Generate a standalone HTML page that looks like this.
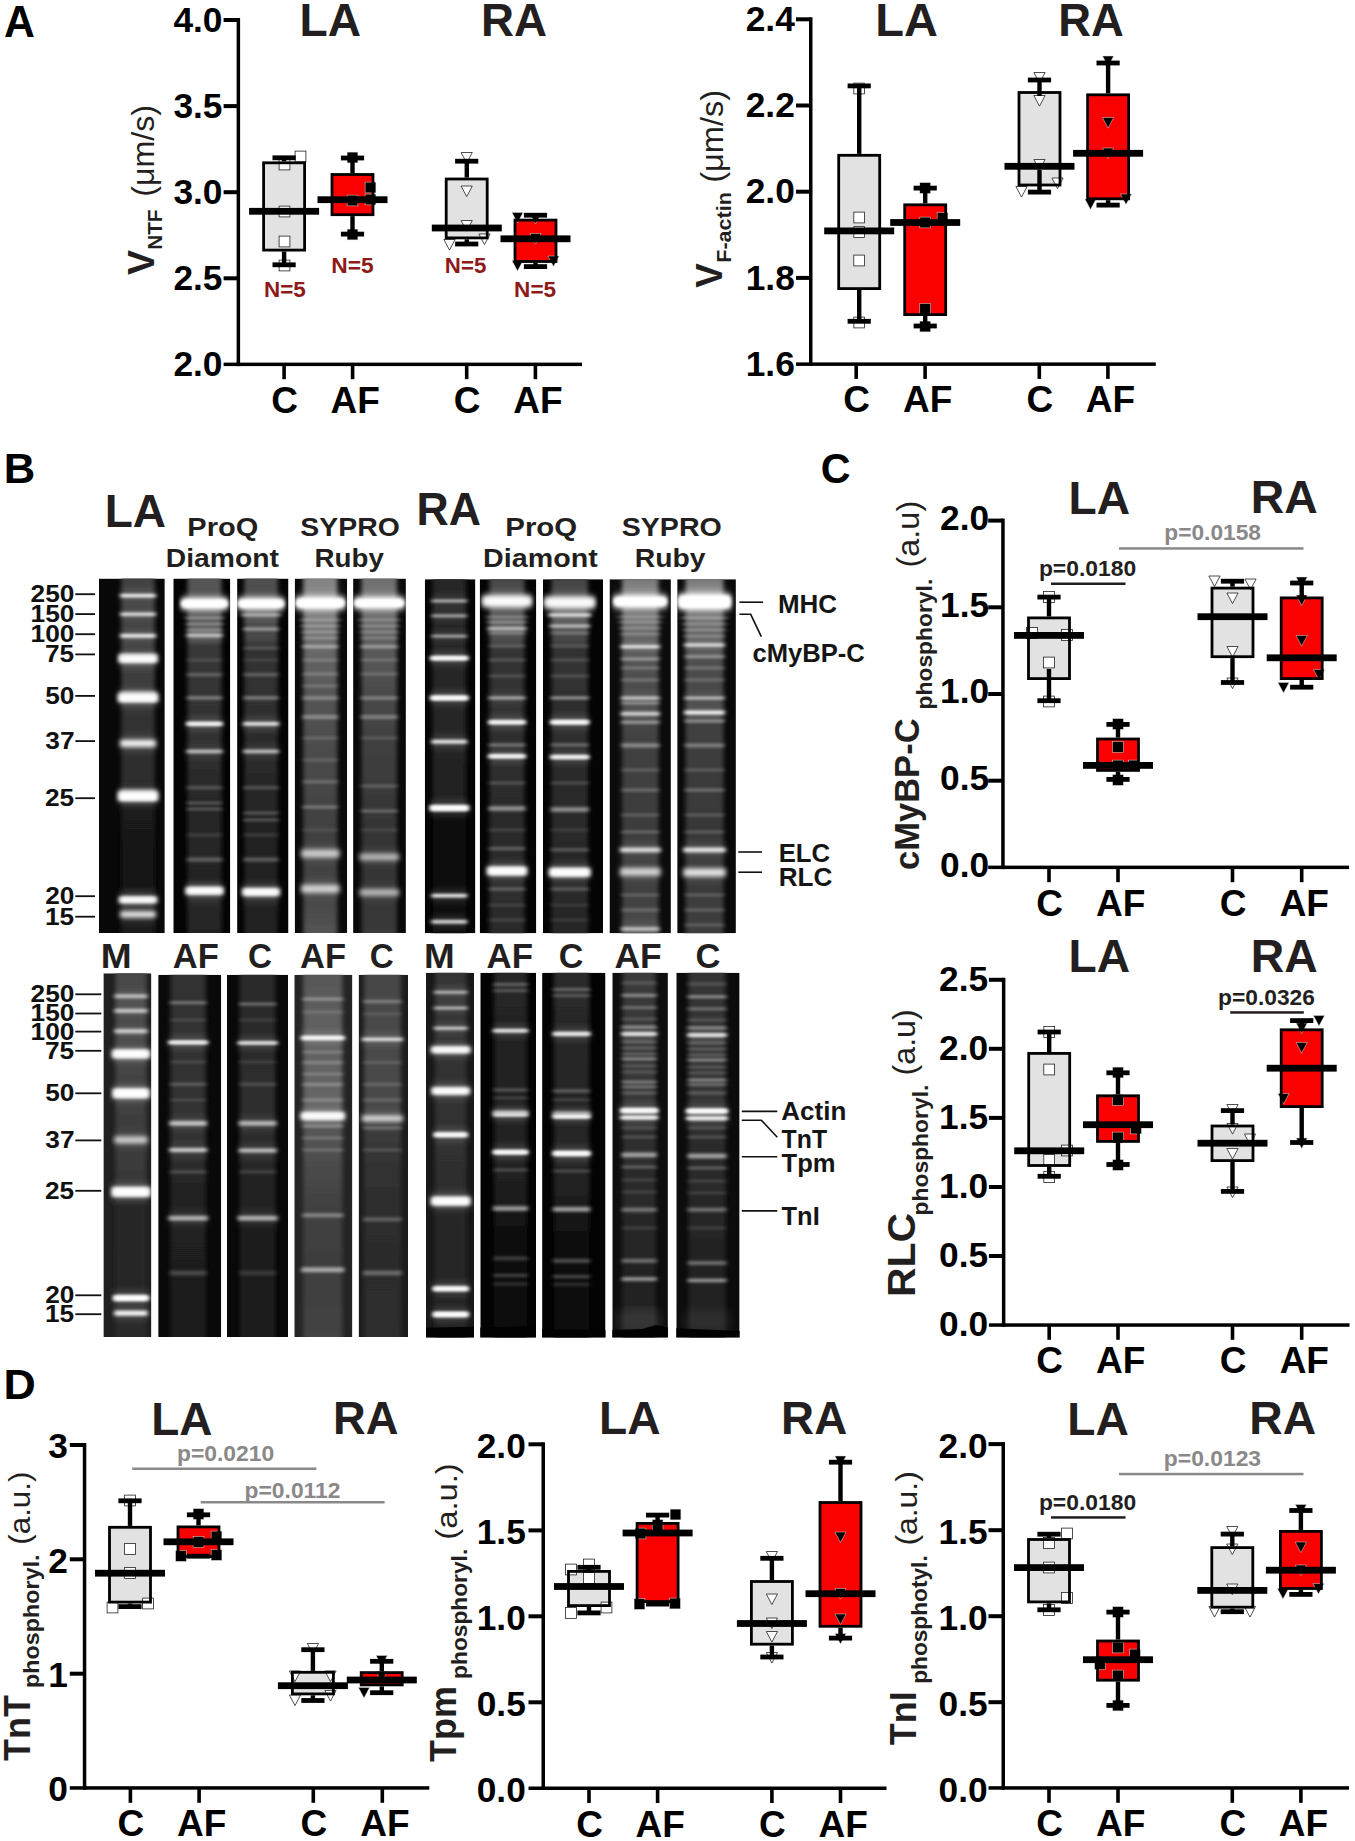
<!DOCTYPE html>
<html lang="en"><head><meta charset="utf-8"><title>Figure</title>
<style>
html,body{margin:0;padding:0;background:#fff}
body{width:1355px;height:1841px;overflow:hidden}
svg{display:block;font-family:'Liberation Sans', Arial, Helvetica, sans-serif;font-weight:bold}
</style></head><body>
<svg width="1355" height="1841" viewBox="0 0 1355 1841">
<defs>
<filter id="b1" x="-10%" y="-200%" width="120%" height="500%"><feGaussianBlur stdDeviation="2.0 1.35"/></filter>
<filter id="b2" x="-10%" y="-200%" width="120%" height="500%"><feGaussianBlur stdDeviation="2.6 2.3"/></filter>
<filter id="b3" x="-20%" y="-50%" width="140%" height="200%"><feGaussianBlur stdDeviation="3 4"/></filter>
<filter id="bl" x="-20%" y="-5%" width="140%" height="110%"><feGaussianBlur stdDeviation="2.1 0.6"/></filter>
</defs>
<rect width="1355" height="1841" fill="#fff"/>
<text x="4.1" y="37.1" font-size="43.5" textLength="30.9" lengthAdjust="spacingAndGlyphs">A</text>
<text x="3.7" y="483.2" font-size="42" textLength="31.5" lengthAdjust="spacingAndGlyphs">B</text>
<text x="820.8" y="483.0" font-size="42" textLength="29.8" lengthAdjust="spacingAndGlyphs">C</text>
<text x="3.6" y="1399.3" font-size="42" textLength="32.3" lengthAdjust="spacingAndGlyphs">D</text>
<rect x="236.6" y="18.0" width="3.5" height="348.1" fill="#000"/>
<rect x="223.6" y="362.6" width="358.4" height="3.5" fill="#000"/>
<rect x="223.6" y="18.0" width="14.8" height="4.0" fill="#000"/>
<rect x="223.6" y="104.1" width="14.8" height="4.0" fill="#000"/>
<rect x="223.6" y="190.2" width="14.8" height="4.0" fill="#000"/>
<rect x="223.6" y="276.3" width="14.8" height="4.0" fill="#000"/>
<text x="222.5" y="31.7" font-size="35.3" text-anchor="end">4.0</text>
<text x="222.5" y="117.8" font-size="35.3" text-anchor="end">3.5</text>
<text x="222.5" y="203.9" font-size="35.3" text-anchor="end">3.0</text>
<text x="222.5" y="290.0" font-size="35.3" text-anchor="end">2.5</text>
<text x="222.5" y="376.1" font-size="35.3" text-anchor="end">2.0</text>
<rect x="282.3" y="364.4" width="3.6" height="14.8" fill="#000"/>
<text x="284.6" y="412.7" font-size="37" text-anchor="middle">C</text>
<rect x="350.8" y="364.4" width="3.6" height="14.8" fill="#000"/>
<text x="355.2" y="412.7" font-size="37" text-anchor="middle">AF</text>
<rect x="464.9" y="364.4" width="3.6" height="14.8" fill="#000"/>
<text x="467.2" y="412.7" font-size="37" text-anchor="middle">C</text>
<rect x="533.6" y="364.4" width="3.6" height="14.8" fill="#000"/>
<text x="538.0" y="412.7" font-size="37" text-anchor="middle">AF</text>
<text x="299.5" y="36.3" font-size="46.8" fill="#231f20" textLength="61.5" lengthAdjust="spacingAndGlyphs">LA</text>
<text x="481.1" y="36.3" font-size="46.8" fill="#231f20" textLength="66.0" lengthAdjust="spacingAndGlyphs">RA</text>
<rect x="263.6" y="162.8" width="41.0" height="87.3" fill="#e2e2e2"/>
<rect x="279.1" y="159.1" width="10.8" height="10.8" fill="#fff" stroke="#222" stroke-width="0.8"/>
<rect x="295.1" y="151.1" width="10.8" height="10.8" fill="#fff" stroke="#222" stroke-width="0.8"/>
<rect x="279.1" y="206.1" width="10.8" height="10.8" fill="#fff" stroke="#222" stroke-width="0.8"/>
<rect x="279.1" y="236.1" width="10.8" height="10.8" fill="#fff" stroke="#222" stroke-width="0.8"/>
<rect x="279.1" y="260.1" width="10.8" height="10.8" fill="#fff" stroke="#222" stroke-width="0.8"/>
<rect x="263.6" y="162.8" width="41.0" height="87.3" fill="none" stroke="#000" stroke-width="2.8"/>
<rect x="281.9" y="157.8" width="4.4" height="3.6" fill="#000"/>
<rect x="281.9" y="251.5" width="4.4" height="13.3" fill="#000"/>
<rect x="272.5" y="155.4" width="23.2" height="4.8" fill="#000"/>
<rect x="272.5" y="262.4" width="23.2" height="4.8" fill="#000"/>
<rect x="249.1" y="207.9" width="70.0" height="6.8" fill="#000"/>
<rect x="332.0" y="174.5" width="41.0" height="40.2" fill="#fb0000"/>
<rect x="347.1" y="152.1" width="10.8" height="10.8" fill="#000" stroke="#ddd" stroke-width="0.5"/>
<rect x="365.1" y="182.1" width="10.8" height="10.8" fill="#000" stroke="#ddd" stroke-width="0.5"/>
<rect x="347.1" y="195.1" width="10.8" height="10.8" fill="#000" stroke="#ddd" stroke-width="0.5"/>
<rect x="365.1" y="194.1" width="10.8" height="10.8" fill="#000" stroke="#ddd" stroke-width="0.5"/>
<rect x="347.1" y="229.1" width="10.8" height="10.8" fill="#000" stroke="#ddd" stroke-width="0.5"/>
<rect x="332.0" y="174.5" width="41.0" height="40.2" fill="none" stroke="#000" stroke-width="2.8"/>
<rect x="350.3" y="158.0" width="4.4" height="15.1" fill="#000"/>
<rect x="350.3" y="216.1" width="4.4" height="18.0" fill="#000"/>
<rect x="340.9" y="155.6" width="23.2" height="4.8" fill="#000"/>
<rect x="340.9" y="231.7" width="23.2" height="4.8" fill="#000"/>
<rect x="317.5" y="196.3" width="70.0" height="6.8" fill="#000"/>
<rect x="446.2" y="179.0" width="41.0" height="58.9" fill="#e2e2e2"/>
<path d="M461.1 152.5h11.2l-5.6 10.6z" fill="#fff" stroke="#222" stroke-width="0.8"/>
<path d="M461.1 186.0h11.2l-5.6 10.6z" fill="#fff" stroke="#222" stroke-width="0.8"/>
<path d="M461.1 220.5h11.2l-5.6 10.6z" fill="#fff" stroke="#222" stroke-width="0.8"/>
<path d="M443.9 239.5h11.2l-5.6 10.6z" fill="#fff" stroke="#222" stroke-width="0.8"/>
<path d="M478.9 234.0h11.2l-5.6 10.6z" fill="#fff" stroke="#222" stroke-width="0.8"/>
<rect x="446.2" y="179.0" width="41.0" height="58.9" fill="none" stroke="#000" stroke-width="2.8"/>
<rect x="464.6" y="161.2" width="4.4" height="16.4" fill="#000"/>
<rect x="464.6" y="239.3" width="4.4" height="4.7" fill="#000"/>
<rect x="455.1" y="158.8" width="23.2" height="4.8" fill="#000"/>
<rect x="455.1" y="241.6" width="23.2" height="4.8" fill="#000"/>
<rect x="431.8" y="224.6" width="70.0" height="6.8" fill="#000"/>
<rect x="515.0" y="220.1" width="41.0" height="41.4" fill="#fb0000"/>
<path d="M511.9 212.5h11.2l-5.6 10.6z" fill="#000" stroke="#ddd" stroke-width="0.5"/>
<path d="M529.9 233.5h11.2l-5.6 10.6z" fill="#000" stroke="#ddd" stroke-width="0.5"/>
<path d="M547.9 256.0h11.2l-5.6 10.6z" fill="#000" stroke="#ddd" stroke-width="0.5"/>
<path d="M511.9 260.5h11.2l-5.6 10.6z" fill="#000" stroke="#ddd" stroke-width="0.5"/>
<path d="M529.9 213.5h11.2l-5.6 10.6z" fill="#000" stroke="#ddd" stroke-width="0.5"/>
<rect x="515.0" y="220.1" width="41.0" height="41.4" fill="none" stroke="#000" stroke-width="2.8"/>
<rect x="533.3" y="215.2" width="4.4" height="3.5" fill="#000"/>
<rect x="533.3" y="262.9" width="4.4" height="3.7" fill="#000"/>
<rect x="523.9" y="212.8" width="23.2" height="4.8" fill="#000"/>
<rect x="523.9" y="264.2" width="23.2" height="4.8" fill="#000"/>
<rect x="500.5" y="235.4" width="70.0" height="6.8" fill="#000"/>
<text x="264.0" y="297.3" font-size="21.5" fill="#8e1a1a" textLength="41.8" lengthAdjust="spacingAndGlyphs">N=5</text>
<text x="331.3" y="273.4" font-size="21.5" fill="#8e1a1a" textLength="42.4" lengthAdjust="spacingAndGlyphs">N=5</text>
<text x="444.8" y="273.4" font-size="21.5" fill="#8e1a1a" textLength="41.5" lengthAdjust="spacingAndGlyphs">N=5</text>
<text x="514.1" y="297.3" font-size="21.5" fill="#8e1a1a" textLength="42.0" lengthAdjust="spacingAndGlyphs">N=5</text>
<text x="153.8" y="275.0" font-size="36.7" fill="#231f20" textLength="25.0" lengthAdjust="spacingAndGlyphs" transform="rotate(-90 153.8 275.0)">V</text>
<text x="162.1" y="249.8" font-size="19.5" fill="#231f20" textLength="40.3" lengthAdjust="spacingAndGlyphs" transform="rotate(-90 162.1 249.8)">NTF</text>
<text x="154.4" y="196.7" font-size="30.8" font-weight="normal" fill="#231f20" textLength="91.8" lengthAdjust="spacingAndGlyphs" transform="rotate(-90 154.4 196.7)">(μm/s)</text>
<rect x="809.0" y="17.3" width="3.5" height="348.6" fill="#000"/>
<rect x="796.0" y="362.4" width="359.8" height="3.5" fill="#000"/>
<rect x="796.0" y="17.3" width="14.8" height="4.0" fill="#000"/>
<rect x="796.0" y="103.5" width="14.8" height="4.0" fill="#000"/>
<rect x="796.0" y="189.7" width="14.8" height="4.0" fill="#000"/>
<rect x="796.0" y="275.9" width="14.8" height="4.0" fill="#000"/>
<text x="794.8" y="31.0" font-size="35.3" text-anchor="end">2.4</text>
<text x="794.8" y="117.2" font-size="35.3" text-anchor="end">2.2</text>
<text x="794.8" y="203.4" font-size="35.3" text-anchor="end">2.0</text>
<text x="794.8" y="289.6" font-size="35.3" text-anchor="end">1.8</text>
<text x="794.8" y="375.8" font-size="35.3" text-anchor="end">1.6</text>
<rect x="854.4" y="364.1" width="3.6" height="14.8" fill="#000"/>
<text x="856.7" y="412.4" font-size="37" text-anchor="middle">C</text>
<rect x="923.3" y="364.1" width="3.6" height="14.8" fill="#000"/>
<text x="927.7" y="412.4" font-size="37" text-anchor="middle">AF</text>
<rect x="1037.5" y="364.1" width="3.6" height="14.8" fill="#000"/>
<text x="1039.8" y="412.4" font-size="37" text-anchor="middle">C</text>
<rect x="1106.1" y="364.1" width="3.6" height="14.8" fill="#000"/>
<text x="1110.5" y="412.4" font-size="37" text-anchor="middle">AF</text>
<text x="875.2" y="36.0" font-size="46.8" fill="#231f20" textLength="62.7" lengthAdjust="spacingAndGlyphs">LA</text>
<text x="1058.2" y="36.0" font-size="46.8" fill="#231f20" textLength="65.6" lengthAdjust="spacingAndGlyphs">RA</text>
<rect x="838.7" y="155.3" width="41.0" height="133.3" fill="#e2e2e2"/>
<rect x="853.8" y="83.1" width="10.8" height="10.8" fill="#fff" stroke="#222" stroke-width="0.8"/>
<rect x="853.8" y="212.1" width="10.8" height="10.8" fill="#fff" stroke="#222" stroke-width="0.8"/>
<rect x="853.8" y="226.6" width="10.8" height="10.8" fill="#fff" stroke="#222" stroke-width="0.8"/>
<rect x="853.8" y="255.1" width="10.8" height="10.8" fill="#fff" stroke="#222" stroke-width="0.8"/>
<rect x="853.8" y="317.1" width="10.8" height="10.8" fill="#fff" stroke="#222" stroke-width="0.8"/>
<rect x="838.7" y="155.3" width="41.0" height="133.3" fill="none" stroke="#000" stroke-width="2.8"/>
<rect x="857.0" y="85.9" width="4.4" height="68.0" fill="#000"/>
<rect x="857.0" y="290.0" width="4.4" height="31.3" fill="#000"/>
<rect x="847.6" y="83.5" width="23.2" height="4.8" fill="#000"/>
<rect x="847.6" y="318.9" width="23.2" height="4.8" fill="#000"/>
<rect x="824.2" y="227.5" width="70.0" height="6.8" fill="#000"/>
<rect x="904.7" y="204.8" width="41.0" height="109.8" fill="#fb0000"/>
<rect x="919.8" y="182.6" width="10.8" height="10.8" fill="#000" stroke="#ddd" stroke-width="0.5"/>
<rect x="937.1" y="212.6" width="10.8" height="10.8" fill="#000" stroke="#ddd" stroke-width="0.5"/>
<rect x="919.8" y="217.1" width="10.8" height="10.8" fill="#000" stroke="#ddd" stroke-width="0.5"/>
<rect x="919.8" y="303.6" width="10.8" height="10.8" fill="#000" stroke="#ddd" stroke-width="0.5"/>
<rect x="919.8" y="321.1" width="10.8" height="10.8" fill="#000" stroke="#ddd" stroke-width="0.5"/>
<rect x="904.7" y="204.8" width="41.0" height="109.8" fill="none" stroke="#000" stroke-width="2.8"/>
<rect x="923.0" y="188.1" width="4.4" height="15.3" fill="#000"/>
<rect x="923.0" y="316.0" width="4.4" height="10.0" fill="#000"/>
<rect x="913.6" y="185.7" width="23.2" height="4.8" fill="#000"/>
<rect x="913.6" y="323.6" width="23.2" height="4.8" fill="#000"/>
<rect x="890.2" y="219.1" width="70.0" height="6.8" fill="#000"/>
<rect x="1019.0" y="92.5" width="41.0" height="92.5" fill="#e2e2e2"/>
<path d="M1033.9 72.5h11.2l-5.6 10.6z" fill="#fff" stroke="#222" stroke-width="0.8"/>
<path d="M1033.9 95.5h11.2l-5.6 10.6z" fill="#fff" stroke="#222" stroke-width="0.8"/>
<path d="M1033.9 159.5h11.2l-5.6 10.6z" fill="#fff" stroke="#222" stroke-width="0.8"/>
<path d="M1015.9 186.5h11.2l-5.6 10.6z" fill="#fff" stroke="#222" stroke-width="0.8"/>
<path d="M1051.9 178.0h11.2l-5.6 10.6z" fill="#fff" stroke="#222" stroke-width="0.8"/>
<rect x="1019.0" y="92.5" width="41.0" height="92.5" fill="none" stroke="#000" stroke-width="2.8"/>
<rect x="1037.3" y="80.0" width="4.4" height="16.0" fill="#000"/>
<rect x="1037.3" y="170.0" width="4.4" height="22.1" fill="#000"/>
<rect x="1027.9" y="77.6" width="23.2" height="4.8" fill="#000"/>
<rect x="1027.9" y="189.7" width="23.2" height="4.8" fill="#000"/>
<rect x="1004.5" y="162.9" width="70.0" height="6.8" fill="#000"/>
<rect x="1087.6" y="94.8" width="41.0" height="104.0" fill="#fb0000"/>
<path d="M1102.5 56.0h11.2l-5.6 10.6z" fill="#000" stroke="#ddd" stroke-width="0.5"/>
<path d="M1102.5 117.5h11.2l-5.6 10.6z" fill="#000" stroke="#ddd" stroke-width="0.5"/>
<path d="M1102.5 148.0h11.2l-5.6 10.6z" fill="#000" stroke="#ddd" stroke-width="0.5"/>
<path d="M1120.4 194.0h11.2l-5.6 10.6z" fill="#000" stroke="#ddd" stroke-width="0.5"/>
<path d="M1084.9 199.0h11.2l-5.6 10.6z" fill="#000" stroke="#ddd" stroke-width="0.5"/>
<rect x="1087.6" y="94.8" width="41.0" height="104.0" fill="none" stroke="#000" stroke-width="2.8"/>
<rect x="1105.9" y="63.0" width="4.4" height="30.4" fill="#000"/>
<rect x="1105.9" y="200.2" width="4.4" height="4.9" fill="#000"/>
<rect x="1096.5" y="60.6" width="23.2" height="4.8" fill="#000"/>
<rect x="1096.5" y="202.7" width="23.2" height="4.8" fill="#000"/>
<rect x="1073.1" y="149.9" width="70.0" height="6.8" fill="#000"/>
<text x="722.4" y="287.7" font-size="36.7" fill="#231f20" textLength="24.5" lengthAdjust="spacingAndGlyphs" transform="rotate(-90 722.4 287.7)">V</text>
<text x="731.3" y="262.7" font-size="20" fill="#231f20" textLength="70.6" lengthAdjust="spacingAndGlyphs" transform="rotate(-90 731.3 262.7)">F-actin</text>
<text x="722.6" y="182.8" font-size="31" font-weight="normal" fill="#231f20" textLength="93.0" lengthAdjust="spacingAndGlyphs" transform="rotate(-90 722.6 182.8)">(μm/s)</text>
<rect x="1001.2" y="518.6" width="3.5" height="350.5" fill="#000"/>
<rect x="988.2" y="865.6" width="360.8" height="3.5" fill="#000"/>
<rect x="988.2" y="518.6" width="14.8" height="4.0" fill="#000"/>
<rect x="988.2" y="605.3" width="14.8" height="4.0" fill="#000"/>
<rect x="988.2" y="692.0" width="14.8" height="4.0" fill="#000"/>
<rect x="988.2" y="778.7" width="14.8" height="4.0" fill="#000"/>
<text x="989.1" y="529.9" font-size="35.3" text-anchor="end">2.0</text>
<text x="989.1" y="616.6" font-size="35.3" text-anchor="end">1.5</text>
<text x="989.1" y="703.3" font-size="35.3" text-anchor="end">1.0</text>
<text x="989.1" y="790.0" font-size="35.3" text-anchor="end">0.5</text>
<text x="989.1" y="876.7" font-size="35.3" text-anchor="end">0.0</text>
<rect x="1047.2" y="867.4" width="3.6" height="14.8" fill="#000"/>
<text x="1049.5" y="915.7" font-size="37" text-anchor="middle">C</text>
<rect x="1116.2" y="867.4" width="3.6" height="14.8" fill="#000"/>
<text x="1120.6" y="915.7" font-size="37" text-anchor="middle">AF</text>
<rect x="1230.7" y="867.4" width="3.6" height="14.8" fill="#000"/>
<text x="1233.0" y="915.7" font-size="37" text-anchor="middle">C</text>
<rect x="1299.9" y="867.4" width="3.6" height="14.8" fill="#000"/>
<text x="1304.3" y="915.7" font-size="37" text-anchor="middle">AF</text>
<text x="1068.5" y="513.5" font-size="46.8" fill="#231f20" textLength="61.6" lengthAdjust="spacingAndGlyphs">LA</text>
<text x="1250.7" y="513.0" font-size="46.8" fill="#231f20" textLength="67.0" lengthAdjust="spacingAndGlyphs">RA</text>
<rect x="1028.5" y="617.9" width="41.0" height="60.7" fill="#e2e2e2"/>
<rect x="1043.6" y="591.6" width="10.8" height="10.8" fill="#fff" stroke="#222" stroke-width="0.8"/>
<rect x="1026.6" y="627.6" width="10.8" height="10.8" fill="#fff" stroke="#222" stroke-width="0.8"/>
<rect x="1061.6" y="629.6" width="10.8" height="10.8" fill="#fff" stroke="#222" stroke-width="0.8"/>
<rect x="1043.6" y="657.1" width="10.8" height="10.8" fill="#fff" stroke="#222" stroke-width="0.8"/>
<rect x="1043.6" y="696.1" width="10.8" height="10.8" fill="#fff" stroke="#222" stroke-width="0.8"/>
<rect x="1028.5" y="617.9" width="41.0" height="60.7" fill="none" stroke="#000" stroke-width="2.8"/>
<rect x="1046.8" y="597.1" width="4.4" height="19.4" fill="#000"/>
<rect x="1046.8" y="669.0" width="4.4" height="31.7" fill="#000"/>
<rect x="1037.4" y="594.7" width="23.2" height="4.8" fill="#000"/>
<rect x="1037.4" y="698.3" width="23.2" height="4.8" fill="#000"/>
<rect x="1014.0" y="632.0" width="70.0" height="6.8" fill="#000"/>
<rect x="1097.5" y="739.0" width="41.0" height="31.4" fill="#fb0000"/>
<rect x="1112.6" y="718.6" width="10.8" height="10.8" fill="#000" stroke="#ddd" stroke-width="0.5"/>
<rect x="1112.6" y="741.6" width="10.8" height="10.8" fill="#000" stroke="#ddd" stroke-width="0.5"/>
<rect x="1112.6" y="760.1" width="10.8" height="10.8" fill="#000" stroke="#ddd" stroke-width="0.5"/>
<rect x="1128.6" y="760.1" width="10.8" height="10.8" fill="#000" stroke="#ddd" stroke-width="0.5"/>
<rect x="1112.6" y="774.6" width="10.8" height="10.8" fill="#000" stroke="#ddd" stroke-width="0.5"/>
<rect x="1097.5" y="739.0" width="41.0" height="31.4" fill="none" stroke="#000" stroke-width="2.8"/>
<rect x="1115.8" y="724.4" width="4.4" height="13.2" fill="#000"/>
<rect x="1115.8" y="771.8" width="4.4" height="7.6" fill="#000"/>
<rect x="1106.4" y="722.0" width="23.2" height="4.8" fill="#000"/>
<rect x="1106.4" y="777.0" width="23.2" height="4.8" fill="#000"/>
<rect x="1083.0" y="762.0" width="70.0" height="6.8" fill="#000"/>
<rect x="1212.0" y="588.1" width="41.0" height="68.6" fill="#e2e2e2"/>
<path d="M1208.9 576.0h11.2l-5.6 10.6z" fill="#fff" stroke="#222" stroke-width="0.8"/>
<path d="M1244.9 579.0h11.2l-5.6 10.6z" fill="#fff" stroke="#222" stroke-width="0.8"/>
<path d="M1226.9 593.0h11.2l-5.6 10.6z" fill="#fff" stroke="#222" stroke-width="0.8"/>
<path d="M1226.9 646.5h11.2l-5.6 10.6z" fill="#fff" stroke="#222" stroke-width="0.8"/>
<path d="M1226.9 678.0h11.2l-5.6 10.6z" fill="#fff" stroke="#222" stroke-width="0.8"/>
<rect x="1212.0" y="588.1" width="41.0" height="68.6" fill="none" stroke="#000" stroke-width="2.8"/>
<rect x="1230.3" y="581.2" width="4.4" height="5.5" fill="#000"/>
<rect x="1230.3" y="658.1" width="4.4" height="24.4" fill="#000"/>
<rect x="1220.9" y="578.8" width="23.2" height="4.8" fill="#000"/>
<rect x="1220.9" y="680.1" width="23.2" height="4.8" fill="#000"/>
<rect x="1197.5" y="613.3" width="70.0" height="6.8" fill="#000"/>
<rect x="1281.2" y="597.9" width="41.0" height="80.7" fill="#fb0000"/>
<path d="M1296.1 577.0h11.2l-5.6 10.6z" fill="#000" stroke="#ddd" stroke-width="0.5"/>
<path d="M1296.1 595.0h11.2l-5.6 10.6z" fill="#000" stroke="#ddd" stroke-width="0.5"/>
<path d="M1296.1 635.5h11.2l-5.6 10.6z" fill="#000" stroke="#ddd" stroke-width="0.5"/>
<path d="M1313.4 669.5h11.2l-5.6 10.6z" fill="#000" stroke="#ddd" stroke-width="0.5"/>
<path d="M1277.9 682.5h11.2l-5.6 10.6z" fill="#000" stroke="#ddd" stroke-width="0.5"/>
<rect x="1281.2" y="597.9" width="41.0" height="80.7" fill="none" stroke="#000" stroke-width="2.8"/>
<rect x="1299.5" y="583.0" width="4.4" height="13.5" fill="#000"/>
<rect x="1299.5" y="680.0" width="4.4" height="7.2" fill="#000"/>
<rect x="1290.1" y="580.6" width="23.2" height="4.8" fill="#000"/>
<rect x="1290.1" y="684.8" width="23.2" height="4.8" fill="#000"/>
<rect x="1266.7" y="654.4" width="70.0" height="6.8" fill="#000"/>
<text x="1038.9" y="575.8" font-size="22" fill="#231f20" textLength="97.2" lengthAdjust="spacingAndGlyphs">p=0.0180</text>
<rect x="1051.0" y="582.5" width="74.5" height="2.5" fill="#231f20"/>
<text x="1164.3" y="539.9" font-size="22" fill="#8a8888" textLength="96.7" lengthAdjust="spacingAndGlyphs">p=0.0158</text>
<rect x="1118.9" y="547.2" width="184.6" height="2.5" fill="#8a8888"/>
<text x="919.0" y="870.0" font-size="35" fill="#231f20" textLength="151.6" lengthAdjust="spacingAndGlyphs" transform="rotate(-90 919.0 870.0)">cMyBP-C</text>
<text x="931.6" y="709.5" font-size="22" fill="#231f20" textLength="130.8" lengthAdjust="spacingAndGlyphs" transform="rotate(-90 931.6 709.5)">phosphoryl.</text>
<text x="919.0" y="567.5" font-size="31" font-weight="normal" fill="#231f20" textLength="66.7" lengthAdjust="spacingAndGlyphs" transform="rotate(-90 919.0 567.5)">(a.u)</text>
<rect x="1001.9" y="977.8" width="3.5" height="349.0" fill="#000"/>
<rect x="988.9" y="1323.3" width="360.6" height="3.5" fill="#000"/>
<rect x="988.9" y="977.8" width="14.8" height="4.0" fill="#000"/>
<rect x="988.9" y="1046.8" width="14.8" height="4.0" fill="#000"/>
<rect x="988.9" y="1115.9" width="14.8" height="4.0" fill="#000"/>
<rect x="988.9" y="1185.0" width="14.8" height="4.0" fill="#000"/>
<rect x="988.9" y="1254.0" width="14.8" height="4.0" fill="#000"/>
<text x="988.2" y="990.5" font-size="35.3" text-anchor="end">2.5</text>
<text x="988.2" y="1059.5" font-size="35.3" text-anchor="end">2.0</text>
<text x="988.2" y="1128.6" font-size="35.3" text-anchor="end">1.5</text>
<text x="988.2" y="1197.7" font-size="35.3" text-anchor="end">1.0</text>
<text x="988.2" y="1266.7" font-size="35.3" text-anchor="end">0.5</text>
<text x="988.2" y="1335.8" font-size="35.3" text-anchor="end">0.0</text>
<rect x="1047.4" y="1325.0" width="3.6" height="14.8" fill="#000"/>
<text x="1049.7" y="1373.3" font-size="37" text-anchor="middle">C</text>
<rect x="1116.2" y="1325.0" width="3.6" height="14.8" fill="#000"/>
<text x="1120.6" y="1373.3" font-size="37" text-anchor="middle">AF</text>
<rect x="1230.7" y="1325.0" width="3.6" height="14.8" fill="#000"/>
<text x="1233.0" y="1373.3" font-size="37" text-anchor="middle">C</text>
<rect x="1299.9" y="1325.0" width="3.6" height="14.8" fill="#000"/>
<text x="1304.3" y="1373.3" font-size="37" text-anchor="middle">AF</text>
<text x="1068.5" y="972.2" font-size="46.8" fill="#231f20" textLength="61.6" lengthAdjust="spacingAndGlyphs">LA</text>
<text x="1250.7" y="971.6" font-size="46.8" fill="#231f20" textLength="67.0" lengthAdjust="spacingAndGlyphs">RA</text>
<rect x="1028.7" y="1053.4" width="41.0" height="112.1" fill="#e2e2e2"/>
<rect x="1043.8" y="1026.6" width="10.8" height="10.8" fill="#fff" stroke="#222" stroke-width="0.8"/>
<rect x="1043.8" y="1064.1" width="10.8" height="10.8" fill="#fff" stroke="#222" stroke-width="0.8"/>
<rect x="1061.6" y="1145.1" width="10.8" height="10.8" fill="#fff" stroke="#222" stroke-width="0.8"/>
<rect x="1043.8" y="1154.6" width="10.8" height="10.8" fill="#fff" stroke="#222" stroke-width="0.8"/>
<rect x="1043.8" y="1171.6" width="10.8" height="10.8" fill="#fff" stroke="#222" stroke-width="0.8"/>
<rect x="1028.7" y="1053.4" width="41.0" height="112.1" fill="none" stroke="#000" stroke-width="2.8"/>
<rect x="1047.0" y="1032.0" width="4.4" height="20.0" fill="#000"/>
<rect x="1047.0" y="1166.9" width="4.4" height="9.4" fill="#000"/>
<rect x="1037.6" y="1029.6" width="23.2" height="4.8" fill="#000"/>
<rect x="1037.6" y="1173.9" width="23.2" height="4.8" fill="#000"/>
<rect x="1014.2" y="1147.4" width="70.0" height="6.8" fill="#000"/>
<rect x="1097.5" y="1095.8" width="41.0" height="45.6" fill="#fb0000"/>
<rect x="1112.6" y="1067.1" width="10.8" height="10.8" fill="#000" stroke="#ddd" stroke-width="0.5"/>
<rect x="1112.6" y="1094.6" width="10.8" height="10.8" fill="#000" stroke="#ddd" stroke-width="0.5"/>
<rect x="1130.6" y="1123.1" width="10.8" height="10.8" fill="#000" stroke="#ddd" stroke-width="0.5"/>
<rect x="1112.6" y="1132.1" width="10.8" height="10.8" fill="#000" stroke="#ddd" stroke-width="0.5"/>
<rect x="1112.6" y="1159.6" width="10.8" height="10.8" fill="#000" stroke="#ddd" stroke-width="0.5"/>
<rect x="1097.5" y="1095.8" width="41.0" height="45.6" fill="none" stroke="#000" stroke-width="2.8"/>
<rect x="1115.8" y="1072.8" width="4.4" height="21.6" fill="#000"/>
<rect x="1115.8" y="1142.8" width="4.4" height="21.7" fill="#000"/>
<rect x="1106.4" y="1070.4" width="23.2" height="4.8" fill="#000"/>
<rect x="1106.4" y="1162.1" width="23.2" height="4.8" fill="#000"/>
<rect x="1083.0" y="1121.3" width="70.0" height="6.8" fill="#000"/>
<rect x="1212.0" y="1126.0" width="41.0" height="34.6" fill="#e2e2e2"/>
<path d="M1226.9 1104.5h11.2l-5.6 10.6z" fill="#fff" stroke="#222" stroke-width="0.8"/>
<path d="M1226.9 1123.5h11.2l-5.6 10.6z" fill="#fff" stroke="#222" stroke-width="0.8"/>
<path d="M1244.4 1134.0h11.2l-5.6 10.6z" fill="#fff" stroke="#222" stroke-width="0.8"/>
<path d="M1226.9 1148.5h11.2l-5.6 10.6z" fill="#fff" stroke="#222" stroke-width="0.8"/>
<path d="M1226.9 1187.0h11.2l-5.6 10.6z" fill="#fff" stroke="#222" stroke-width="0.8"/>
<rect x="1212.0" y="1126.0" width="41.0" height="34.6" fill="none" stroke="#000" stroke-width="2.8"/>
<rect x="1230.3" y="1110.6" width="4.4" height="14.0" fill="#000"/>
<rect x="1230.3" y="1162.0" width="4.4" height="29.4" fill="#000"/>
<rect x="1220.9" y="1108.2" width="23.2" height="4.8" fill="#000"/>
<rect x="1220.9" y="1189.0" width="23.2" height="4.8" fill="#000"/>
<rect x="1197.5" y="1139.8" width="70.0" height="6.8" fill="#000"/>
<rect x="1281.2" y="1029.8" width="41.0" height="76.8" fill="#fb0000"/>
<path d="M1313.4 1015.5h11.2l-5.6 10.6z" fill="#000" stroke="#ddd" stroke-width="0.5"/>
<path d="M1296.1 1023.0h11.2l-5.6 10.6z" fill="#000" stroke="#ddd" stroke-width="0.5"/>
<path d="M1296.1 1042.5h11.2l-5.6 10.6z" fill="#000" stroke="#ddd" stroke-width="0.5"/>
<path d="M1277.9 1093.5h11.2l-5.6 10.6z" fill="#000" stroke="#ddd" stroke-width="0.5"/>
<path d="M1296.1 1138.0h11.2l-5.6 10.6z" fill="#000" stroke="#ddd" stroke-width="0.5"/>
<rect x="1281.2" y="1029.8" width="41.0" height="76.8" fill="none" stroke="#000" stroke-width="2.8"/>
<rect x="1299.5" y="1020.6" width="4.4" height="7.8" fill="#000"/>
<rect x="1299.5" y="1108.0" width="4.4" height="34.5" fill="#000"/>
<rect x="1290.1" y="1018.2" width="23.2" height="4.8" fill="#000"/>
<rect x="1290.1" y="1140.1" width="23.2" height="4.8" fill="#000"/>
<rect x="1266.7" y="1064.8" width="70.0" height="6.8" fill="#000"/>
<text x="1218.1" y="1004.8" font-size="22" fill="#231f20" textLength="96.8" lengthAdjust="spacingAndGlyphs">p=0.0326</text>
<rect x="1230.2" y="1011.2" width="73.6" height="2.5" fill="#231f20"/>
<text x="914.8" y="1297.1" font-size="38" fill="#231f20" textLength="84.2" lengthAdjust="spacingAndGlyphs" transform="rotate(-90 914.8 1297.1)">RLC</text>
<text x="927.6" y="1215.5" font-size="22" fill="#231f20" textLength="130.9" lengthAdjust="spacingAndGlyphs" transform="rotate(-90 927.6 1215.5)">phosphoryl.</text>
<text x="914.8" y="1075.4" font-size="31" font-weight="normal" fill="#231f20" textLength="66.1" lengthAdjust="spacingAndGlyphs" transform="rotate(-90 914.8 1075.4)">(a.u)</text>
<rect x="82.8" y="1443.0" width="3.5" height="346.8" fill="#000"/>
<rect x="69.8" y="1786.2" width="359.5" height="3.5" fill="#000"/>
<rect x="69.8" y="1443.0" width="14.8" height="4.0" fill="#000"/>
<rect x="69.8" y="1557.3" width="14.8" height="4.0" fill="#000"/>
<rect x="69.8" y="1671.7" width="14.8" height="4.0" fill="#000"/>
<text x="67.9" y="1458.3" font-size="35.3" text-anchor="end">3</text>
<text x="67.9" y="1572.6" font-size="35.3" text-anchor="end">2</text>
<text x="67.9" y="1687.0" font-size="35.3" text-anchor="end">1</text>
<text x="67.9" y="1801.3" font-size="35.3" text-anchor="end">0</text>
<rect x="128.6" y="1788.0" width="3.6" height="14.8" fill="#000"/>
<text x="130.9" y="1836.3" font-size="37" text-anchor="middle">C</text>
<rect x="197.3" y="1788.0" width="3.6" height="14.8" fill="#000"/>
<text x="201.7" y="1836.3" font-size="37" text-anchor="middle">AF</text>
<rect x="311.5" y="1788.0" width="3.6" height="14.8" fill="#000"/>
<text x="313.8" y="1836.3" font-size="37" text-anchor="middle">C</text>
<rect x="380.5" y="1788.0" width="3.6" height="14.8" fill="#000"/>
<text x="384.9" y="1836.3" font-size="37" text-anchor="middle">AF</text>
<text x="151.3" y="1434.6" font-size="46.8" fill="#231f20" textLength="61.2" lengthAdjust="spacingAndGlyphs">LA</text>
<text x="333.0" y="1433.6" font-size="46.8" fill="#231f20" textLength="65.4" lengthAdjust="spacingAndGlyphs">RA</text>
<rect x="109.5" y="1527.3" width="41.0" height="74.8" fill="#e2e2e2"/>
<rect x="124.6" y="1495.1" width="10.8" height="10.8" fill="#fff" stroke="#222" stroke-width="0.8"/>
<rect x="124.6" y="1543.6" width="10.8" height="10.8" fill="#fff" stroke="#222" stroke-width="0.8"/>
<rect x="124.6" y="1567.6" width="10.8" height="10.8" fill="#fff" stroke="#222" stroke-width="0.8"/>
<rect x="107.1" y="1602.1" width="10.8" height="10.8" fill="#fff" stroke="#222" stroke-width="0.8"/>
<rect x="142.6" y="1598.1" width="10.8" height="10.8" fill="#fff" stroke="#222" stroke-width="0.8"/>
<rect x="109.5" y="1527.3" width="41.0" height="74.8" fill="none" stroke="#000" stroke-width="2.8"/>
<rect x="127.8" y="1500.8" width="4.4" height="25.1" fill="#000"/>
<rect x="127.8" y="1603.5" width="4.4" height="3.1" fill="#000"/>
<rect x="118.4" y="1498.4" width="23.2" height="4.8" fill="#000"/>
<rect x="118.4" y="1604.2" width="23.2" height="4.8" fill="#000"/>
<rect x="95.0" y="1569.8" width="70.0" height="6.8" fill="#000"/>
<rect x="178.0" y="1526.9" width="41.0" height="29.7" fill="#fb0000"/>
<rect x="193.1" y="1508.6" width="10.8" height="10.8" fill="#000" stroke="#ddd" stroke-width="0.5"/>
<rect x="211.1" y="1531.1" width="10.8" height="10.8" fill="#000" stroke="#ddd" stroke-width="0.5"/>
<rect x="193.1" y="1536.6" width="10.8" height="10.8" fill="#000" stroke="#ddd" stroke-width="0.5"/>
<rect x="175.6" y="1550.6" width="10.8" height="10.8" fill="#000" stroke="#ddd" stroke-width="0.5"/>
<rect x="211.1" y="1549.6" width="10.8" height="10.8" fill="#000" stroke="#ddd" stroke-width="0.5"/>
<rect x="178.0" y="1526.9" width="41.0" height="29.7" fill="none" stroke="#000" stroke-width="2.8"/>
<rect x="196.3" y="1514.8" width="4.4" height="10.7" fill="#000"/>
<rect x="186.9" y="1512.4" width="23.2" height="4.8" fill="#000"/>
<rect x="186.9" y="1553.8" width="23.2" height="4.8" fill="#000"/>
<rect x="163.5" y="1538.4" width="70.0" height="6.8" fill="#000"/>
<rect x="292.4" y="1672.3" width="41.0" height="21.6" fill="#e2e2e2"/>
<path d="M307.3 1643.5h11.2l-5.6 10.6z" fill="#fff" stroke="#222" stroke-width="0.8"/>
<path d="M289.4 1671.0h11.2l-5.6 10.6z" fill="#fff" stroke="#222" stroke-width="0.8"/>
<path d="M324.9 1671.0h11.2l-5.6 10.6z" fill="#fff" stroke="#222" stroke-width="0.8"/>
<path d="M289.4 1695.0h11.2l-5.6 10.6z" fill="#fff" stroke="#222" stroke-width="0.8"/>
<path d="M324.9 1690.5h11.2l-5.6 10.6z" fill="#fff" stroke="#222" stroke-width="0.8"/>
<rect x="292.4" y="1672.3" width="41.0" height="21.6" fill="none" stroke="#000" stroke-width="2.8"/>
<rect x="310.7" y="1649.7" width="4.4" height="21.2" fill="#000"/>
<rect x="310.7" y="1695.3" width="4.4" height="5.2" fill="#000"/>
<rect x="301.3" y="1647.3" width="23.2" height="4.8" fill="#000"/>
<rect x="301.3" y="1698.1" width="23.2" height="4.8" fill="#000"/>
<rect x="277.9" y="1682.3" width="70.0" height="6.8" fill="#000"/>
<rect x="361.2" y="1672.6" width="41.0" height="12.3" fill="#fb0000"/>
<path d="M376.1 1655.5h11.2l-5.6 10.6z" fill="#000" stroke="#ddd" stroke-width="0.5"/>
<path d="M376.1 1671.5h11.2l-5.6 10.6z" fill="#000" stroke="#ddd" stroke-width="0.5"/>
<path d="M358.4 1687.5h11.2l-5.6 10.6z" fill="#000" stroke="#ddd" stroke-width="0.5"/>
<rect x="361.2" y="1672.6" width="41.0" height="12.3" fill="none" stroke="#000" stroke-width="2.8"/>
<rect x="379.6" y="1661.3" width="4.4" height="9.9" fill="#000"/>
<rect x="379.6" y="1686.3" width="4.4" height="6.4" fill="#000"/>
<rect x="370.1" y="1658.9" width="23.2" height="4.8" fill="#000"/>
<rect x="370.1" y="1690.3" width="23.2" height="4.8" fill="#000"/>
<rect x="346.8" y="1676.6" width="70.0" height="6.8" fill="#000"/>
<text x="177.0" y="1460.6" font-size="22" fill="#8a8888" textLength="97.2" lengthAdjust="spacingAndGlyphs">p=0.0210</text>
<rect x="132.2" y="1467.5" width="184.2" height="2.5" fill="#8a8888"/>
<text x="244.6" y="1497.7" font-size="22" fill="#8a8888" textLength="95.8" lengthAdjust="spacingAndGlyphs">p=0.0112</text>
<rect x="200.7" y="1501.0" width="183.9" height="2.5" fill="#8a8888"/>
<text x="30.0" y="1761.1" font-size="37" fill="#231f20" textLength="66.0" lengthAdjust="spacingAndGlyphs" transform="rotate(-90 30.0 1761.1)">TnT</text>
<text x="39.5" y="1687.9" font-size="22" fill="#231f20" textLength="133.5" lengthAdjust="spacingAndGlyphs" transform="rotate(-90 39.5 1687.9)">phosphoryl.</text>
<text x="30.0" y="1544.7" font-size="30" font-weight="normal" fill="#231f20" textLength="73.1" lengthAdjust="spacingAndGlyphs" transform="rotate(-90 30.0 1544.7)">(a.u.)</text>
<rect x="541.5" y="1442.3" width="3.5" height="347.7" fill="#000"/>
<rect x="528.5" y="1786.5" width="358.0" height="3.5" fill="#000"/>
<rect x="528.5" y="1442.3" width="14.8" height="4.0" fill="#000"/>
<rect x="528.5" y="1528.4" width="14.8" height="4.0" fill="#000"/>
<rect x="528.5" y="1614.3" width="14.8" height="4.0" fill="#000"/>
<rect x="528.5" y="1700.3" width="14.8" height="4.0" fill="#000"/>
<text x="525.8" y="1458.1" font-size="35.3" text-anchor="end">2.0</text>
<text x="525.8" y="1544.2" font-size="35.3" text-anchor="end">1.5</text>
<text x="525.8" y="1630.1" font-size="35.3" text-anchor="end">1.0</text>
<text x="525.8" y="1716.1" font-size="35.3" text-anchor="end">0.5</text>
<text x="525.8" y="1802.0" font-size="35.3" text-anchor="end">0.0</text>
<rect x="587.2" y="1788.2" width="3.6" height="14.8" fill="#000"/>
<text x="589.5" y="1836.5" font-size="37" text-anchor="middle">C</text>
<rect x="655.8" y="1788.2" width="3.6" height="14.8" fill="#000"/>
<text x="660.2" y="1836.5" font-size="37" text-anchor="middle">AF</text>
<rect x="770.1" y="1788.2" width="3.6" height="14.8" fill="#000"/>
<text x="772.4" y="1836.5" font-size="37" text-anchor="middle">C</text>
<rect x="838.7" y="1788.2" width="3.6" height="14.8" fill="#000"/>
<text x="843.1" y="1836.5" font-size="37" text-anchor="middle">AF</text>
<text x="599.0" y="1434.4" font-size="46.8" fill="#231f20" textLength="61.5" lengthAdjust="spacingAndGlyphs">LA</text>
<text x="781.1" y="1433.8" font-size="46.8" fill="#231f20" textLength="66.1" lengthAdjust="spacingAndGlyphs">RA</text>
<rect x="568.5" y="1571.4" width="41.0" height="34.2" fill="#e2e2e2"/>
<rect x="583.6" y="1559.1" width="10.8" height="10.8" fill="#fff" stroke="#222" stroke-width="0.8"/>
<rect x="565.6" y="1564.1" width="10.8" height="10.8" fill="#fff" stroke="#222" stroke-width="0.8"/>
<rect x="583.6" y="1572.6" width="10.8" height="10.8" fill="#fff" stroke="#222" stroke-width="0.8"/>
<rect x="601.1" y="1602.1" width="10.8" height="10.8" fill="#fff" stroke="#222" stroke-width="0.8"/>
<rect x="565.6" y="1607.6" width="10.8" height="10.8" fill="#fff" stroke="#222" stroke-width="0.8"/>
<rect x="568.5" y="1571.4" width="41.0" height="34.2" fill="none" stroke="#000" stroke-width="2.8"/>
<rect x="586.8" y="1567.3" width="4.4" height="2.7" fill="#000"/>
<rect x="586.8" y="1607.0" width="4.4" height="5.9" fill="#000"/>
<rect x="577.4" y="1564.9" width="23.2" height="4.8" fill="#000"/>
<rect x="577.4" y="1610.5" width="23.2" height="4.8" fill="#000"/>
<rect x="554.0" y="1583.1" width="70.0" height="6.8" fill="#000"/>
<rect x="637.1" y="1523.4" width="41.0" height="78.2" fill="#fb0000"/>
<rect x="670.1" y="1509.1" width="10.8" height="10.8" fill="#000" stroke="#ddd" stroke-width="0.5"/>
<rect x="652.2" y="1519.6" width="10.8" height="10.8" fill="#000" stroke="#ddd" stroke-width="0.5"/>
<rect x="635.1" y="1528.1" width="10.8" height="10.8" fill="#000" stroke="#ddd" stroke-width="0.5"/>
<rect x="634.1" y="1598.6" width="10.8" height="10.8" fill="#000" stroke="#ddd" stroke-width="0.5"/>
<rect x="669.6" y="1598.1" width="10.8" height="10.8" fill="#000" stroke="#ddd" stroke-width="0.5"/>
<rect x="637.1" y="1523.4" width="41.0" height="78.2" fill="none" stroke="#000" stroke-width="2.8"/>
<rect x="655.4" y="1515.1" width="4.4" height="6.9" fill="#000"/>
<rect x="655.4" y="1603.0" width="4.4" height="1.1" fill="#000"/>
<rect x="646.0" y="1512.7" width="23.2" height="4.8" fill="#000"/>
<rect x="646.0" y="1601.7" width="23.2" height="4.8" fill="#000"/>
<rect x="622.6" y="1529.6" width="70.0" height="6.8" fill="#000"/>
<rect x="751.4" y="1581.5" width="41.0" height="62.7" fill="#e2e2e2"/>
<path d="M766.3 1551.5h11.2l-5.6 10.6z" fill="#fff" stroke="#222" stroke-width="0.8"/>
<path d="M766.3 1594.0h11.2l-5.6 10.6z" fill="#fff" stroke="#222" stroke-width="0.8"/>
<path d="M766.3 1618.0h11.2l-5.6 10.6z" fill="#fff" stroke="#222" stroke-width="0.8"/>
<path d="M766.3 1631.5h11.2l-5.6 10.6z" fill="#fff" stroke="#222" stroke-width="0.8"/>
<path d="M766.3 1652.5h11.2l-5.6 10.6z" fill="#fff" stroke="#222" stroke-width="0.8"/>
<rect x="751.4" y="1581.5" width="41.0" height="62.7" fill="none" stroke="#000" stroke-width="2.8"/>
<rect x="769.7" y="1558.3" width="4.4" height="21.8" fill="#000"/>
<rect x="769.7" y="1645.6" width="4.4" height="11.4" fill="#000"/>
<rect x="760.3" y="1555.9" width="23.2" height="4.8" fill="#000"/>
<rect x="760.3" y="1654.6" width="23.2" height="4.8" fill="#000"/>
<rect x="736.9" y="1620.1" width="70.0" height="6.8" fill="#000"/>
<rect x="820.0" y="1502.5" width="41.0" height="123.8" fill="#fb0000"/>
<path d="M834.9 1456.0h11.2l-5.6 10.6z" fill="#000" stroke="#ddd" stroke-width="0.5"/>
<path d="M834.9 1532.0h11.2l-5.6 10.6z" fill="#000" stroke="#ddd" stroke-width="0.5"/>
<path d="M834.9 1588.5h11.2l-5.6 10.6z" fill="#000" stroke="#ddd" stroke-width="0.5"/>
<path d="M834.9 1614.0h11.2l-5.6 10.6z" fill="#000" stroke="#ddd" stroke-width="0.5"/>
<path d="M834.9 1633.5h11.2l-5.6 10.6z" fill="#000" stroke="#ddd" stroke-width="0.5"/>
<rect x="820.0" y="1502.5" width="41.0" height="123.8" fill="none" stroke="#000" stroke-width="2.8"/>
<rect x="838.3" y="1462.2" width="4.4" height="38.9" fill="#000"/>
<rect x="838.3" y="1627.7" width="4.4" height="10.4" fill="#000"/>
<rect x="828.9" y="1459.8" width="23.2" height="4.8" fill="#000"/>
<rect x="828.9" y="1635.7" width="23.2" height="4.8" fill="#000"/>
<rect x="805.5" y="1590.3" width="70.0" height="6.8" fill="#000"/>
<rect x="1001.5" y="1442.1" width="3.5" height="347.7" fill="#000"/>
<rect x="988.5" y="1786.2" width="360.5" height="3.5" fill="#000"/>
<rect x="988.5" y="1442.1" width="14.8" height="4.0" fill="#000"/>
<rect x="988.5" y="1528.2" width="14.8" height="4.0" fill="#000"/>
<rect x="988.5" y="1614.2" width="14.8" height="4.0" fill="#000"/>
<rect x="988.5" y="1700.2" width="14.8" height="4.0" fill="#000"/>
<text x="987.7" y="1458.1" font-size="35.3" text-anchor="end">2.0</text>
<text x="987.7" y="1544.2" font-size="35.3" text-anchor="end">1.5</text>
<text x="987.7" y="1630.2" font-size="35.3" text-anchor="end">1.0</text>
<text x="987.7" y="1716.2" font-size="35.3" text-anchor="end">0.5</text>
<text x="987.7" y="1802.0" font-size="35.3" text-anchor="end">0.0</text>
<rect x="1047.2" y="1788.0" width="3.6" height="14.8" fill="#000"/>
<text x="1049.5" y="1836.3" font-size="37" text-anchor="middle">C</text>
<rect x="1116.2" y="1788.0" width="3.6" height="14.8" fill="#000"/>
<text x="1120.6" y="1836.3" font-size="37" text-anchor="middle">AF</text>
<rect x="1230.5" y="1788.0" width="3.6" height="14.8" fill="#000"/>
<text x="1232.8" y="1836.3" font-size="37" text-anchor="middle">C</text>
<rect x="1299.1" y="1788.0" width="3.6" height="14.8" fill="#000"/>
<text x="1303.5" y="1836.3" font-size="37" text-anchor="middle">AF</text>
<text x="1067.3" y="1434.8" font-size="46.8" fill="#231f20" textLength="61.6" lengthAdjust="spacingAndGlyphs">LA</text>
<text x="1249.2" y="1434.0" font-size="46.8" fill="#231f20" textLength="66.9" lengthAdjust="spacingAndGlyphs">RA</text>
<rect x="1028.5" y="1539.5" width="41.0" height="62.4" fill="#e2e2e2"/>
<rect x="1061.6" y="1528.1" width="10.8" height="10.8" fill="#fff" stroke="#222" stroke-width="0.8"/>
<rect x="1043.6" y="1537.6" width="10.8" height="10.8" fill="#fff" stroke="#222" stroke-width="0.8"/>
<rect x="1043.6" y="1562.1" width="10.8" height="10.8" fill="#fff" stroke="#222" stroke-width="0.8"/>
<rect x="1061.6" y="1592.6" width="10.8" height="10.8" fill="#fff" stroke="#222" stroke-width="0.8"/>
<rect x="1043.6" y="1604.6" width="10.8" height="10.8" fill="#fff" stroke="#222" stroke-width="0.8"/>
<rect x="1028.5" y="1539.5" width="41.0" height="62.4" fill="none" stroke="#000" stroke-width="2.8"/>
<rect x="1046.8" y="1534.2" width="4.4" height="3.9" fill="#000"/>
<rect x="1046.8" y="1603.3" width="4.4" height="6.5" fill="#000"/>
<rect x="1037.4" y="1531.8" width="23.2" height="4.8" fill="#000"/>
<rect x="1037.4" y="1607.4" width="23.2" height="4.8" fill="#000"/>
<rect x="1014.0" y="1564.2" width="70.0" height="6.8" fill="#000"/>
<rect x="1097.5" y="1641.0" width="41.0" height="39.2" fill="#fb0000"/>
<rect x="1112.6" y="1606.6" width="10.8" height="10.8" fill="#000" stroke="#ddd" stroke-width="0.5"/>
<rect x="1112.6" y="1642.1" width="10.8" height="10.8" fill="#000" stroke="#ddd" stroke-width="0.5"/>
<rect x="1129.6" y="1649.1" width="10.8" height="10.8" fill="#000" stroke="#ddd" stroke-width="0.5"/>
<rect x="1094.6" y="1658.6" width="10.8" height="10.8" fill="#000" stroke="#ddd" stroke-width="0.5"/>
<rect x="1112.6" y="1670.1" width="10.8" height="10.8" fill="#000" stroke="#ddd" stroke-width="0.5"/>
<rect x="1112.6" y="1700.1" width="10.8" height="10.8" fill="#000" stroke="#ddd" stroke-width="0.5"/>
<rect x="1097.5" y="1641.0" width="41.0" height="39.2" fill="none" stroke="#000" stroke-width="2.8"/>
<rect x="1115.8" y="1612.1" width="4.4" height="27.5" fill="#000"/>
<rect x="1115.8" y="1681.6" width="4.4" height="23.8" fill="#000"/>
<rect x="1106.4" y="1609.7" width="23.2" height="4.8" fill="#000"/>
<rect x="1106.4" y="1703.0" width="23.2" height="4.8" fill="#000"/>
<rect x="1083.0" y="1656.3" width="70.0" height="6.8" fill="#000"/>
<rect x="1211.8" y="1547.6" width="41.0" height="59.6" fill="#e2e2e2"/>
<path d="M1226.7 1526.5h11.2l-5.6 10.6z" fill="#fff" stroke="#222" stroke-width="0.8"/>
<path d="M1226.7 1544.0h11.2l-5.6 10.6z" fill="#fff" stroke="#222" stroke-width="0.8"/>
<path d="M1226.7 1584.0h11.2l-5.6 10.6z" fill="#fff" stroke="#222" stroke-width="0.8"/>
<path d="M1208.9 1606.5h11.2l-5.6 10.6z" fill="#fff" stroke="#222" stroke-width="0.8"/>
<path d="M1244.4 1606.5h11.2l-5.6 10.6z" fill="#fff" stroke="#222" stroke-width="0.8"/>
<rect x="1211.8" y="1547.6" width="41.0" height="59.6" fill="none" stroke="#000" stroke-width="2.8"/>
<rect x="1230.1" y="1534.1" width="4.4" height="12.1" fill="#000"/>
<rect x="1230.1" y="1608.6" width="4.4" height="3.1" fill="#000"/>
<rect x="1220.7" y="1531.7" width="23.2" height="4.8" fill="#000"/>
<rect x="1220.7" y="1609.3" width="23.2" height="4.8" fill="#000"/>
<rect x="1197.3" y="1587.0" width="70.0" height="6.8" fill="#000"/>
<rect x="1280.4" y="1531.4" width="41.0" height="57.1" fill="#fb0000"/>
<path d="M1295.3 1504.5h11.2l-5.6 10.6z" fill="#000" stroke="#ddd" stroke-width="0.5"/>
<path d="M1295.3 1542.0h11.2l-5.6 10.6z" fill="#000" stroke="#ddd" stroke-width="0.5"/>
<path d="M1295.3 1565.0h11.2l-5.6 10.6z" fill="#000" stroke="#ddd" stroke-width="0.5"/>
<path d="M1312.9 1583.5h11.2l-5.6 10.6z" fill="#000" stroke="#ddd" stroke-width="0.5"/>
<path d="M1277.4 1588.5h11.2l-5.6 10.6z" fill="#000" stroke="#ddd" stroke-width="0.5"/>
<rect x="1280.4" y="1531.4" width="41.0" height="57.1" fill="none" stroke="#000" stroke-width="2.8"/>
<rect x="1298.7" y="1510.5" width="4.4" height="19.5" fill="#000"/>
<rect x="1298.7" y="1589.9" width="4.4" height="4.5" fill="#000"/>
<rect x="1289.3" y="1508.1" width="23.2" height="4.8" fill="#000"/>
<rect x="1289.3" y="1592.0" width="23.2" height="4.8" fill="#000"/>
<rect x="1265.9" y="1566.8" width="70.0" height="6.8" fill="#000"/>
<text x="1038.9" y="1510.1" font-size="22" fill="#231f20" textLength="97.2" lengthAdjust="spacingAndGlyphs">p=0.0180</text>
<rect x="1051.0" y="1516.2" width="74.5" height="2.5" fill="#231f20"/>
<text x="1163.8" y="1465.7" font-size="22" fill="#8a8888" textLength="97.3" lengthAdjust="spacingAndGlyphs">p=0.0123</text>
<rect x="1118.9" y="1472.8" width="184.6" height="2.5" fill="#8a8888"/>
<text x="456.2" y="1761.9" font-size="37" fill="#231f20" textLength="75.9" lengthAdjust="spacingAndGlyphs" transform="rotate(-90 456.2 1761.9)">Tpm</text>
<text x="467.5" y="1678.9" font-size="22" fill="#231f20" textLength="130.1" lengthAdjust="spacingAndGlyphs" transform="rotate(-90 467.5 1678.9)">phosphoryl.</text>
<text x="456.6" y="1539.7" font-size="30" font-weight="normal" fill="#231f20" textLength="76.4" lengthAdjust="spacingAndGlyphs" transform="rotate(-90 456.6 1539.7)">(a.u.)</text>
<text x="916.2" y="1745.3" font-size="37" fill="#231f20" textLength="54.0" lengthAdjust="spacingAndGlyphs" transform="rotate(-90 916.2 1745.3)">TnI</text>
<text x="927.5" y="1683.8" font-size="22" fill="#231f20" textLength="128.5" lengthAdjust="spacingAndGlyphs" transform="rotate(-90 927.5 1683.8)">phosphotyl.</text>
<text x="916.6" y="1545.6" font-size="30" font-weight="normal" fill="#231f20" textLength="74.4" lengthAdjust="spacingAndGlyphs" transform="rotate(-90 916.6 1545.6)">(a.u.)</text>
<text x="30.6" y="602.1" font-size="24.8" fill="#111" textLength="43.9" lengthAdjust="spacingAndGlyphs">250</text>
<rect x="75.3" y="593.3" width="19.7" height="1.8" fill="#111"/>
<text x="30.6" y="622.0" font-size="24.8" fill="#111" textLength="43.9" lengthAdjust="spacingAndGlyphs">150</text>
<rect x="75.3" y="613.2" width="19.7" height="1.8" fill="#111"/>
<text x="30.6" y="642.1" font-size="24.8" fill="#111" textLength="43.9" lengthAdjust="spacingAndGlyphs">100</text>
<rect x="75.3" y="633.3" width="19.7" height="1.8" fill="#111"/>
<text x="44.9" y="662.3" font-size="24.8" fill="#111" textLength="29.2" lengthAdjust="spacingAndGlyphs">75</text>
<rect x="75.3" y="653.5" width="19.7" height="1.8" fill="#111"/>
<text x="45.2" y="703.8" font-size="24.8" fill="#111" textLength="29.2" lengthAdjust="spacingAndGlyphs">50</text>
<rect x="75.3" y="695.0" width="19.7" height="1.8" fill="#111"/>
<text x="45.3" y="749.0" font-size="24.8" fill="#111" textLength="29.2" lengthAdjust="spacingAndGlyphs">37</text>
<rect x="75.3" y="740.2" width="19.7" height="1.8" fill="#111"/>
<text x="44.9" y="806.1" font-size="24.8" fill="#111" textLength="29.2" lengthAdjust="spacingAndGlyphs">25</text>
<rect x="75.3" y="797.3" width="19.7" height="1.8" fill="#111"/>
<text x="45.2" y="904.1" font-size="24.8" fill="#111" textLength="29.2" lengthAdjust="spacingAndGlyphs">20</text>
<rect x="75.3" y="895.3" width="19.7" height="1.8" fill="#111"/>
<text x="44.9" y="924.6" font-size="24.8" fill="#111" textLength="29.2" lengthAdjust="spacingAndGlyphs">15</text>
<rect x="75.3" y="915.8" width="19.7" height="1.8" fill="#111"/>
<text x="30.6" y="1002.2" font-size="24.8" fill="#111" textLength="43.9" lengthAdjust="spacingAndGlyphs">250</text>
<rect x="75.3" y="993.4" width="26.0" height="1.8" fill="#111"/>
<text x="30.6" y="1021.4" font-size="24.8" fill="#111" textLength="43.9" lengthAdjust="spacingAndGlyphs">150</text>
<rect x="75.3" y="1012.6" width="26.0" height="1.8" fill="#111"/>
<text x="30.6" y="1039.5" font-size="24.8" fill="#111" textLength="43.9" lengthAdjust="spacingAndGlyphs">100</text>
<rect x="75.3" y="1030.7" width="26.0" height="1.8" fill="#111"/>
<text x="44.9" y="1058.7" font-size="24.8" fill="#111" textLength="29.2" lengthAdjust="spacingAndGlyphs">75</text>
<rect x="75.3" y="1049.9" width="26.0" height="1.8" fill="#111"/>
<text x="45.2" y="1101.2" font-size="24.8" fill="#111" textLength="29.2" lengthAdjust="spacingAndGlyphs">50</text>
<rect x="75.3" y="1092.4" width="26.0" height="1.8" fill="#111"/>
<text x="45.3" y="1148.3" font-size="24.8" fill="#111" textLength="29.2" lengthAdjust="spacingAndGlyphs">37</text>
<rect x="75.3" y="1139.5" width="26.0" height="1.8" fill="#111"/>
<text x="44.9" y="1198.7" font-size="24.8" fill="#111" textLength="29.2" lengthAdjust="spacingAndGlyphs">25</text>
<rect x="75.3" y="1189.9" width="26.0" height="1.8" fill="#111"/>
<text x="45.2" y="1303.2" font-size="24.8" fill="#111" textLength="29.2" lengthAdjust="spacingAndGlyphs">20</text>
<rect x="75.3" y="1294.4" width="26.0" height="1.8" fill="#111"/>
<text x="44.9" y="1322.1" font-size="24.8" fill="#111" textLength="29.2" lengthAdjust="spacingAndGlyphs">15</text>
<rect x="75.3" y="1313.3" width="26.0" height="1.8" fill="#111"/>
<text x="104.7" y="527.0" font-size="46.8" fill="#231f20" textLength="61.4" lengthAdjust="spacingAndGlyphs">LA</text>
<text x="416.5" y="525.2" font-size="46.8" fill="#231f20" textLength="64.4" lengthAdjust="spacingAndGlyphs">RA</text>
<text x="187.3" y="536.0" font-size="26" fill="#231f20" textLength="70.9" lengthAdjust="spacingAndGlyphs">ProQ</text>
<text x="165.8" y="567.4" font-size="26" fill="#231f20" textLength="113.1" lengthAdjust="spacingAndGlyphs">Diamont</text>
<text x="300.3" y="536.0" font-size="26" fill="#231f20" textLength="99.5" lengthAdjust="spacingAndGlyphs">SYPRO</text>
<text x="314.6" y="567.4" font-size="26" fill="#231f20" textLength="69.3" lengthAdjust="spacingAndGlyphs">Ruby</text>
<text x="505.3" y="536.0" font-size="26" fill="#231f20" textLength="71.9" lengthAdjust="spacingAndGlyphs">ProQ</text>
<text x="483.1" y="567.4" font-size="26" fill="#231f20" textLength="114.6" lengthAdjust="spacingAndGlyphs">Diamont</text>
<text x="621.7" y="536.0" font-size="26" fill="#231f20" textLength="100.1" lengthAdjust="spacingAndGlyphs">SYPRO</text>
<text x="634.7" y="567.4" font-size="26" fill="#231f20" textLength="70.8" lengthAdjust="spacingAndGlyphs">Ruby</text>
<text x="100.8" y="967.6" font-size="34.3" fill="#231f20" textLength="30.9" lengthAdjust="spacingAndGlyphs">M</text>
<text x="172.8" y="967.6" font-size="34.3" fill="#231f20" textLength="46.0" lengthAdjust="spacingAndGlyphs">AF</text>
<text x="248.0" y="967.6" font-size="34.3" fill="#231f20" textLength="24.0" lengthAdjust="spacingAndGlyphs">C</text>
<text x="300.1" y="967.6" font-size="34.3" fill="#231f20" textLength="46.0" lengthAdjust="spacingAndGlyphs">AF</text>
<text x="369.8" y="967.6" font-size="34.3" fill="#231f20" textLength="24.0" lengthAdjust="spacingAndGlyphs">C</text>
<text x="424.1" y="967.6" font-size="34.3" fill="#231f20" textLength="30.7" lengthAdjust="spacingAndGlyphs">M</text>
<text x="486.6" y="967.6" font-size="34.3" fill="#231f20" textLength="46.4" lengthAdjust="spacingAndGlyphs">AF</text>
<text x="558.7" y="967.6" font-size="34.3" fill="#231f20" textLength="24.6" lengthAdjust="spacingAndGlyphs">C</text>
<text x="614.5" y="967.6" font-size="34.3" fill="#231f20" textLength="47.2" lengthAdjust="spacingAndGlyphs">AF</text>
<text x="695.5" y="967.6" font-size="34.3" fill="#231f20" textLength="25.0" lengthAdjust="spacingAndGlyphs">C</text>
<path d="M739.4 602.2L763.1 602.2" fill="none" stroke="#111" stroke-width="1.6"/>
<text x="778.0" y="612.6" font-size="25.4" fill="#151515" textLength="59.1" lengthAdjust="spacingAndGlyphs">MHC</text>
<path d="M739.4 614.3L750.7 614.3L761.3 636.6" fill="none" stroke="#111" stroke-width="1.6"/>
<text x="752.5" y="662.2" font-size="25.4" fill="#151515" textLength="112.3" lengthAdjust="spacingAndGlyphs">cMyBP-C</text>
<path d="M738.3 852.0L762.0 852.0" fill="none" stroke="#111" stroke-width="1.6"/>
<text x="778.7" y="861.6" font-size="25.4" fill="#151515" textLength="51.5" lengthAdjust="spacingAndGlyphs">ELC</text>
<path d="M738.3 872.2L762.0 872.2" fill="none" stroke="#111" stroke-width="1.6"/>
<text x="778.7" y="886.1" font-size="25.4" fill="#151515" textLength="53.6" lengthAdjust="spacingAndGlyphs">RLC</text>
<path d="M741.8 1111.4L777.3 1111.4" fill="none" stroke="#111" stroke-width="1.6"/>
<text x="781.3" y="1120.3" font-size="25.4" fill="#151515" textLength="65.0" lengthAdjust="spacingAndGlyphs">Actin</text>
<path d="M741.8 1120.2L761.3 1120.2L777.3 1137.2" fill="none" stroke="#111" stroke-width="1.6"/>
<text x="781.6" y="1147.6" font-size="25.4" fill="#151515" textLength="45.5" lengthAdjust="spacingAndGlyphs">TnT</text>
<path d="M741.8 1156.7L777.3 1156.7" fill="none" stroke="#111" stroke-width="1.6"/>
<text x="781.6" y="1171.7" font-size="25.4" fill="#151515" textLength="54.0" lengthAdjust="spacingAndGlyphs">Tpm</text>
<path d="M741.8 1210.9L777.3 1210.9" fill="none" stroke="#111" stroke-width="1.6"/>
<text x="781.6" y="1224.8" font-size="25.4" fill="#151515" textLength="38.1" lengthAdjust="spacingAndGlyphs">TnI</text>
<clipPath id="c1"><rect x="99.0" y="578.6" width="65.8" height="354.4"/></clipPath>
<g clip-path="url(#c1)">
<rect x="99.0" y="578.6" width="65.8" height="354.4" fill="#080808"/>
<linearGradient id="g1" gradientUnits="userSpaceOnUse" x1="0" y1="578.6" x2="0" y2="933.0"><stop offset="0.001" stop-color="#424242"/><stop offset="0.314" stop-color="#3e3e3e"/><stop offset="0.399" stop-color="#323232"/><stop offset="0.597" stop-color="#2c2c2c"/><stop offset="0.667" stop-color="#1a1a1a"/><stop offset="0.865" stop-color="#181818"/><stop offset="0.921" stop-color="#222222"/><stop offset="1.000" stop-color="#1e1e1e"/></linearGradient>
<rect x="121.4" y="573.6" width="33.2" height="364.4" fill="url(#g1)" filter="url(#bl)"/>
<rect x="120.4" y="590.4" width="35.2" height="10.5" fill="#fff" opacity="0.15" filter="url(#b3)"/>
<rect x="120.4" y="609.0" width="35.2" height="10.5" fill="#fff" opacity="0.13" filter="url(#b3)"/>
<rect x="120.4" y="630.3" width="35.2" height="11.0" fill="#fff" opacity="0.14" filter="url(#b3)"/>
<rect x="118.9" y="651.9" width="38.2" height="14.0" fill="#fff" opacity="0.20" filter="url(#b3)"/>
<rect x="118.4" y="690.4" width="39.2" height="15.0" fill="#fff" opacity="0.20" filter="url(#b3)"/>
<rect x="120.4" y="736.4" width="35.2" height="14.0" fill="#fff" opacity="0.16" filter="url(#b3)"/>
<rect x="118.4" y="788.3" width="39.2" height="16.0" fill="#fff" opacity="0.20" filter="url(#b3)"/>
<rect x="119.4" y="893.3" width="37.2" height="13.0" fill="#fff" opacity="0.20" filter="url(#b3)"/>
<rect x="120.4" y="907.9" width="35.2" height="13.0" fill="#fff" opacity="0.15" filter="url(#b3)"/>
<rect x="120.4" y="594.0" width="35.2" height="3.3" fill="#fff" opacity="1.00" filter="url(#b1)"/>
<rect x="120.4" y="612.6" width="35.2" height="3.3" fill="#fff" opacity="0.89" filter="url(#b1)"/>
<rect x="120.4" y="633.9" width="35.2" height="3.8" fill="#fff" opacity="0.92" filter="url(#b1)"/>
<rect x="118.9" y="655.5" width="38.2" height="6.8" fill="#fff" opacity="1.00" filter="url(#b2)"/>
<rect x="119.9" y="655.5" width="36.2" height="6.8" fill="#fff" opacity="0.80" filter="url(#b1)"/>
<rect x="119.4" y="653.1" width="37.2" height="3.8" fill="#fff" opacity="0.46" filter="url(#b1)"/>
<rect x="118.4" y="694.0" width="39.2" height="7.8" fill="#fff" opacity="1.00" filter="url(#b2)"/>
<rect x="119.4" y="694.0" width="37.2" height="7.8" fill="#fff" opacity="0.80" filter="url(#b1)"/>
<rect x="119.4" y="690.6" width="37.2" height="4.8" fill="#fff" opacity="0.44" filter="url(#b1)"/>
<rect x="120.4" y="740.0" width="35.2" height="6.8" fill="#fff" opacity="0.94" filter="url(#b2)"/>
<rect x="118.4" y="791.9" width="39.2" height="8.8" fill="#fff" opacity="1.00" filter="url(#b2)"/>
<rect x="119.4" y="791.9" width="37.2" height="8.8" fill="#fff" opacity="0.80" filter="url(#b1)"/>
<rect x="119.4" y="788.6" width="37.2" height="4.8" fill="#fff" opacity="0.38" filter="url(#b1)"/>
<rect x="119.4" y="896.9" width="37.2" height="5.8" fill="#fff" opacity="1.00" filter="url(#b2)"/>
<rect x="120.4" y="896.9" width="35.2" height="5.8" fill="#fff" opacity="0.80" filter="url(#b1)"/>
<rect x="120.4" y="911.5" width="35.2" height="5.8" fill="#fff" opacity="0.91" filter="url(#b2)"/>
</g>
<clipPath id="c2"><rect x="173.3" y="578.6" width="57.0" height="354.4"/></clipPath>
<g clip-path="url(#c2)">
<rect x="173.3" y="578.6" width="57.0" height="354.4" fill="#040404"/>
<linearGradient id="g2" gradientUnits="userSpaceOnUse" x1="0" y1="578.6" x2="0" y2="933.0"><stop offset="0.001" stop-color="#565656"/><stop offset="0.055" stop-color="#505050"/><stop offset="0.089" stop-color="#5c5c5c"/><stop offset="0.168" stop-color="#545454"/><stop offset="0.190" stop-color="#383838"/><stop offset="0.343" stop-color="#343434"/><stop offset="0.512" stop-color="#2e2e2e"/><stop offset="0.625" stop-color="#282828"/><stop offset="0.850" stop-color="#242424"/><stop offset="0.907" stop-color="#2a2a2a"/><stop offset="1.000" stop-color="#242424"/></linearGradient>
<rect x="187.5" y="573.6" width="34.0" height="364.4" fill="url(#g2)" filter="url(#bl)"/>
<rect x="181.5" y="593.6" width="46.0" height="20.0" fill="#fff" opacity="0.10" filter="url(#b3)"/>
<rect x="182.5" y="596.6" width="44.0" height="14.0" fill="#fff" opacity="0.20" filter="url(#b3)"/>
<rect x="182.5" y="598.1" width="44.0" height="11.0" fill="#fff" opacity="0.20" filter="url(#b3)"/>
<rect x="186.5" y="630.3" width="36.0" height="10.0" fill="#fff" opacity="0.11" filter="url(#b3)"/>
<rect x="186.5" y="718.6" width="36.0" height="10.5" fill="#fff" opacity="0.17" filter="url(#b3)"/>
<rect x="186.5" y="746.1" width="36.0" height="10.5" fill="#fff" opacity="0.11" filter="url(#b3)"/>
<rect x="186.0" y="883.8" width="37.0" height="14.0" fill="#fff" opacity="0.20" filter="url(#b3)"/>
<rect x="181.5" y="597.2" width="46.0" height="12.8" fill="#fff" opacity="0.55" filter="url(#b2)"/>
<rect x="182.5" y="600.2" width="44.0" height="6.8" fill="#fff" opacity="1.00" filter="url(#b2)"/>
<rect x="183.5" y="600.2" width="42.0" height="6.8" fill="#fff" opacity="0.80" filter="url(#b1)"/>
<rect x="182.5" y="601.7" width="44.0" height="3.8" fill="#fff" opacity="1.00" filter="url(#b1)"/>
<rect x="183.5" y="601.7" width="42.0" height="3.8" fill="#fff" opacity="0.80" filter="url(#b1)"/>
<rect x="184.5" y="617.1" width="40.0" height="1.8" fill="#fff" opacity="0.50" filter="url(#b1)"/>
<rect x="185.5" y="623.1" width="38.0" height="1.8" fill="#fff" opacity="0.50" filter="url(#b1)"/>
<rect x="186.5" y="629.1" width="36.0" height="1.8" fill="#fff" opacity="0.50" filter="url(#b1)"/>
<rect x="186.5" y="633.9" width="36.0" height="2.8" fill="#fff" opacity="0.79" filter="url(#b1)"/>
<rect x="186.5" y="659.1" width="36.0" height="1.8" fill="#fff" opacity="0.20" filter="url(#b1)"/>
<rect x="186.5" y="673.3" width="36.0" height="2.8" fill="#fff" opacity="0.29" filter="url(#b1)"/>
<rect x="186.5" y="696.5" width="36.0" height="2.8" fill="#fff" opacity="0.46" filter="url(#b1)"/>
<rect x="186.5" y="722.2" width="36.0" height="3.3" fill="#fff" opacity="1.00" filter="url(#b1)"/>
<rect x="187.5" y="722.2" width="34.0" height="3.3" fill="#fff" opacity="0.68" filter="url(#b1)"/>
<rect x="186.5" y="749.8" width="36.0" height="3.3" fill="#fff" opacity="0.75" filter="url(#b1)"/>
<rect x="186.5" y="786.3" width="36.0" height="2.8" fill="#fff" opacity="0.26" filter="url(#b1)"/>
<rect x="186.5" y="802.1" width="36.0" height="1.8" fill="#fff" opacity="0.37" filter="url(#b1)"/>
<rect x="186.5" y="808.1" width="36.0" height="1.8" fill="#fff" opacity="0.37" filter="url(#b1)"/>
<rect x="186.5" y="833.6" width="36.0" height="2.8" fill="#fff" opacity="0.14" filter="url(#b1)"/>
<rect x="186.5" y="857.7" width="36.0" height="3.8" fill="#fff" opacity="0.29" filter="url(#b1)"/>
<rect x="186.0" y="887.4" width="37.0" height="6.8" fill="#fff" opacity="1.00" filter="url(#b2)"/>
<rect x="187.0" y="887.4" width="35.0" height="6.8" fill="#fff" opacity="0.80" filter="url(#b1)"/>
</g>
<clipPath id="c3"><rect x="237.1" y="578.6" width="51.4" height="354.4"/></clipPath>
<g clip-path="url(#c3)">
<rect x="237.1" y="578.6" width="51.4" height="354.4" fill="#040404"/>
<linearGradient id="g3" gradientUnits="userSpaceOnUse" x1="0" y1="578.6" x2="0" y2="933.0"><stop offset="0.001" stop-color="#505050"/><stop offset="0.055" stop-color="#4c4c4c"/><stop offset="0.089" stop-color="#545454"/><stop offset="0.168" stop-color="#484848"/><stop offset="0.190" stop-color="#343434"/><stop offset="0.343" stop-color="#303030"/><stop offset="0.512" stop-color="#2a2a2a"/><stop offset="0.625" stop-color="#262626"/><stop offset="0.850" stop-color="#202020"/><stop offset="0.907" stop-color="#262626"/><stop offset="1.000" stop-color="#202020"/></linearGradient>
<rect x="244.2" y="573.6" width="33.6" height="364.4" fill="url(#g3)" filter="url(#bl)"/>
<rect x="238.2" y="593.6" width="45.6" height="20.0" fill="#fff" opacity="0.10" filter="url(#b3)"/>
<rect x="239.2" y="596.6" width="43.6" height="14.0" fill="#fff" opacity="0.20" filter="url(#b3)"/>
<rect x="239.2" y="598.1" width="43.6" height="11.0" fill="#fff" opacity="0.20" filter="url(#b3)"/>
<rect x="241.2" y="610.5" width="39.6" height="9.0" fill="#fff" opacity="0.10" filter="url(#b3)"/>
<rect x="243.2" y="718.6" width="35.6" height="10.5" fill="#fff" opacity="0.16" filter="url(#b3)"/>
<rect x="243.2" y="746.1" width="35.6" height="10.5" fill="#fff" opacity="0.11" filter="url(#b3)"/>
<rect x="242.7" y="885.0" width="36.6" height="14.0" fill="#fff" opacity="0.20" filter="url(#b3)"/>
<rect x="238.2" y="597.2" width="45.6" height="12.8" fill="#fff" opacity="0.55" filter="url(#b2)"/>
<rect x="239.2" y="600.2" width="43.6" height="6.8" fill="#fff" opacity="1.00" filter="url(#b2)"/>
<rect x="240.2" y="600.2" width="41.6" height="6.8" fill="#fff" opacity="0.80" filter="url(#b1)"/>
<rect x="239.2" y="601.7" width="43.6" height="3.8" fill="#fff" opacity="1.00" filter="url(#b1)"/>
<rect x="240.2" y="601.7" width="41.6" height="3.8" fill="#fff" opacity="0.80" filter="url(#b1)"/>
<rect x="241.2" y="614.1" width="39.6" height="1.8" fill="#fff" opacity="0.83" filter="url(#b1)"/>
<rect x="243.2" y="627.9" width="35.6" height="2.3" fill="#fff" opacity="0.64" filter="url(#b1)"/>
<rect x="243.2" y="647.1" width="35.6" height="1.8" fill="#fff" opacity="0.30" filter="url(#b1)"/>
<rect x="243.2" y="659.1" width="35.6" height="1.8" fill="#fff" opacity="0.17" filter="url(#b1)"/>
<rect x="243.2" y="673.3" width="35.6" height="2.8" fill="#fff" opacity="0.29" filter="url(#b1)"/>
<rect x="243.2" y="696.5" width="35.6" height="2.8" fill="#fff" opacity="0.46" filter="url(#b1)"/>
<rect x="243.2" y="722.2" width="35.6" height="3.3" fill="#fff" opacity="1.00" filter="url(#b1)"/>
<rect x="243.2" y="749.8" width="35.6" height="3.3" fill="#fff" opacity="0.75" filter="url(#b1)"/>
<rect x="243.2" y="786.3" width="35.6" height="2.8" fill="#fff" opacity="0.26" filter="url(#b1)"/>
<rect x="243.2" y="812.1" width="35.6" height="1.8" fill="#fff" opacity="0.37" filter="url(#b1)"/>
<rect x="243.2" y="819.1" width="35.6" height="1.8" fill="#fff" opacity="0.37" filter="url(#b1)"/>
<rect x="243.2" y="833.6" width="35.6" height="2.8" fill="#fff" opacity="0.14" filter="url(#b1)"/>
<rect x="243.2" y="857.7" width="35.6" height="3.8" fill="#fff" opacity="0.29" filter="url(#b1)"/>
<rect x="242.7" y="888.6" width="36.6" height="6.8" fill="#fff" opacity="1.00" filter="url(#b2)"/>
<rect x="243.7" y="888.6" width="34.6" height="6.8" fill="#fff" opacity="0.80" filter="url(#b1)"/>
</g>
<clipPath id="c4"><rect x="294.7" y="578.6" width="52.5" height="354.4"/></clipPath>
<g clip-path="url(#c4)">
<rect x="294.7" y="578.6" width="52.5" height="354.4" fill="#0a0a0a"/>
<linearGradient id="g4" gradientUnits="userSpaceOnUse" x1="0" y1="578.6" x2="0" y2="933.0"><stop offset="0.001" stop-color="#828282"/><stop offset="0.055" stop-color="#8c8c8c"/><stop offset="0.094" stop-color="#808080"/><stop offset="0.201" stop-color="#686868"/><stop offset="0.343" stop-color="#545454"/><stop offset="0.512" stop-color="#4a4a4a"/><stop offset="0.738" stop-color="#404040"/><stop offset="0.893" stop-color="#464646"/><stop offset="1.000" stop-color="#545454"/></linearGradient>
<rect x="303.2" y="573.6" width="34.2" height="364.4" fill="url(#g4)" filter="url(#bl)"/>
<rect x="296.2" y="592.5" width="48.2" height="21.0" fill="#fff" opacity="0.10" filter="url(#b3)"/>
<rect x="297.2" y="595.5" width="46.2" height="15.0" fill="#fff" opacity="0.20" filter="url(#b3)"/>
<rect x="297.2" y="597.0" width="46.2" height="12.0" fill="#fff" opacity="0.20" filter="url(#b3)"/>
<rect x="301.2" y="846.0" width="38.2" height="15.0" fill="#fff" opacity="0.12" filter="url(#b3)"/>
<rect x="301.2" y="881.3" width="38.2" height="15.0" fill="#fff" opacity="0.12" filter="url(#b3)"/>
<rect x="296.2" y="596.1" width="48.2" height="13.8" fill="#fff" opacity="0.54" filter="url(#b2)"/>
<rect x="297.2" y="599.1" width="46.2" height="7.8" fill="#fff" opacity="1.00" filter="url(#b2)"/>
<rect x="298.2" y="599.1" width="44.2" height="7.8" fill="#fff" opacity="0.80" filter="url(#b1)"/>
<rect x="297.2" y="600.6" width="46.2" height="4.8" fill="#fff" opacity="1.00" filter="url(#b1)"/>
<rect x="298.2" y="600.6" width="44.2" height="4.8" fill="#fff" opacity="0.80" filter="url(#b1)"/>
<rect x="299.2" y="619.2" width="42.2" height="1.6" fill="#fff" opacity="0.47" filter="url(#b1)"/>
<rect x="300.2" y="625.2" width="40.2" height="1.6" fill="#fff" opacity="0.47" filter="url(#b1)"/>
<rect x="301.2" y="631.2" width="38.2" height="1.6" fill="#fff" opacity="0.47" filter="url(#b1)"/>
<rect x="302.2" y="637.2" width="36.2" height="1.6" fill="#fff" opacity="0.44" filter="url(#b1)"/>
<rect x="302.2" y="645.4" width="36.2" height="2.3" fill="#fff" opacity="0.64" filter="url(#b1)"/>
<rect x="302.2" y="659.1" width="36.2" height="1.8" fill="#fff" opacity="0.30" filter="url(#b1)"/>
<rect x="302.2" y="673.1" width="36.2" height="1.8" fill="#fff" opacity="0.37" filter="url(#b1)"/>
<rect x="302.2" y="685.1" width="36.2" height="1.8" fill="#fff" opacity="0.30" filter="url(#b1)"/>
<rect x="302.2" y="696.6" width="36.2" height="2.8" fill="#fff" opacity="0.40" filter="url(#b1)"/>
<rect x="302.2" y="715.1" width="36.2" height="3.8" fill="#fff" opacity="0.37" filter="url(#b1)"/>
<rect x="302.2" y="737.1" width="36.2" height="1.8" fill="#fff" opacity="0.27" filter="url(#b1)"/>
<rect x="302.2" y="759.1" width="36.2" height="1.8" fill="#fff" opacity="0.27" filter="url(#b1)"/>
<rect x="302.2" y="780.6" width="36.2" height="2.3" fill="#fff" opacity="0.30" filter="url(#b1)"/>
<rect x="302.2" y="806.1" width="36.2" height="1.8" fill="#fff" opacity="0.47" filter="url(#b1)"/>
<rect x="302.2" y="829.1" width="36.2" height="1.8" fill="#fff" opacity="0.17" filter="url(#b1)"/>
<rect x="301.2" y="849.6" width="38.2" height="7.8" fill="#fff" opacity="0.69" filter="url(#b2)"/>
<rect x="301.2" y="884.9" width="38.2" height="7.8" fill="#fff" opacity="0.72" filter="url(#b2)"/>
</g>
<clipPath id="c5"><rect x="353.1" y="578.6" width="52.8" height="354.4"/></clipPath>
<g clip-path="url(#c5)">
<rect x="353.1" y="578.6" width="52.8" height="354.4" fill="#080808"/>
<linearGradient id="g5" gradientUnits="userSpaceOnUse" x1="0" y1="578.6" x2="0" y2="933.0"><stop offset="0.001" stop-color="#6e6e6e"/><stop offset="0.055" stop-color="#7a7a7a"/><stop offset="0.094" stop-color="#707070"/><stop offset="0.201" stop-color="#5a5a5a"/><stop offset="0.343" stop-color="#484848"/><stop offset="0.512" stop-color="#3e3e3e"/><stop offset="0.738" stop-color="#343434"/><stop offset="0.893" stop-color="#363636"/><stop offset="1.000" stop-color="#3a3a3a"/></linearGradient>
<rect x="361.5" y="573.6" width="35.5" height="364.4" fill="url(#g5)" filter="url(#bl)"/>
<rect x="354.5" y="593.0" width="49.5" height="20.0" fill="#fff" opacity="0.10" filter="url(#b3)"/>
<rect x="355.5" y="596.0" width="47.5" height="14.0" fill="#fff" opacity="0.20" filter="url(#b3)"/>
<rect x="355.5" y="597.5" width="47.5" height="11.0" fill="#fff" opacity="0.20" filter="url(#b3)"/>
<rect x="359.5" y="850.0" width="39.5" height="14.0" fill="#fff" opacity="0.10" filter="url(#b3)"/>
<rect x="359.5" y="885.5" width="39.5" height="14.0" fill="#fff" opacity="0.10" filter="url(#b3)"/>
<rect x="354.5" y="596.6" width="49.5" height="12.8" fill="#fff" opacity="0.55" filter="url(#b2)"/>
<rect x="355.5" y="599.6" width="47.5" height="6.8" fill="#fff" opacity="1.00" filter="url(#b2)"/>
<rect x="356.5" y="599.6" width="45.5" height="6.8" fill="#fff" opacity="0.80" filter="url(#b1)"/>
<rect x="355.5" y="601.1" width="47.5" height="3.8" fill="#fff" opacity="1.00" filter="url(#b1)"/>
<rect x="356.5" y="601.1" width="45.5" height="3.8" fill="#fff" opacity="0.80" filter="url(#b1)"/>
<rect x="357.5" y="619.2" width="43.5" height="1.6" fill="#fff" opacity="0.44" filter="url(#b1)"/>
<rect x="358.5" y="625.2" width="41.5" height="1.6" fill="#fff" opacity="0.44" filter="url(#b1)"/>
<rect x="359.5" y="631.2" width="39.5" height="1.6" fill="#fff" opacity="0.44" filter="url(#b1)"/>
<rect x="360.5" y="637.2" width="37.5" height="1.6" fill="#fff" opacity="0.39" filter="url(#b1)"/>
<rect x="360.5" y="645.4" width="37.5" height="2.3" fill="#fff" opacity="0.58" filter="url(#b1)"/>
<rect x="360.5" y="659.1" width="37.5" height="1.8" fill="#fff" opacity="0.30" filter="url(#b1)"/>
<rect x="360.5" y="673.1" width="37.5" height="1.8" fill="#fff" opacity="0.30" filter="url(#b1)"/>
<rect x="360.5" y="696.6" width="37.5" height="2.8" fill="#fff" opacity="0.40" filter="url(#b1)"/>
<rect x="360.5" y="715.1" width="37.5" height="3.8" fill="#fff" opacity="0.34" filter="url(#b1)"/>
<rect x="360.5" y="737.1" width="37.5" height="1.8" fill="#fff" opacity="0.23" filter="url(#b1)"/>
<rect x="360.5" y="784.9" width="37.5" height="2.3" fill="#fff" opacity="0.27" filter="url(#b1)"/>
<rect x="360.5" y="810.1" width="37.5" height="1.8" fill="#fff" opacity="0.43" filter="url(#b1)"/>
<rect x="360.5" y="829.1" width="37.5" height="1.8" fill="#fff" opacity="0.17" filter="url(#b1)"/>
<rect x="359.5" y="853.6" width="39.5" height="6.8" fill="#fff" opacity="0.59" filter="url(#b2)"/>
<rect x="359.5" y="889.1" width="39.5" height="6.8" fill="#fff" opacity="0.59" filter="url(#b2)"/>
</g>
<clipPath id="c6"><rect x="424.8" y="579.2" width="50.6" height="354.1"/></clipPath>
<g clip-path="url(#c6)">
<rect x="424.8" y="579.2" width="50.6" height="354.1" fill="#040404"/>
<linearGradient id="g6" gradientUnits="userSpaceOnUse" x1="0" y1="579.2" x2="0" y2="933.3"><stop offset="-0.001" stop-color="#282828"/><stop offset="0.341" stop-color="#282828"/><stop offset="0.624" stop-color="#222222"/><stop offset="0.657" stop-color="#0a0a0a"/><stop offset="0.999" stop-color="#080808"/></linearGradient>
<rect x="432.5" y="574.2" width="33.5" height="364.1" fill="url(#g6)" filter="url(#bl)"/>
<rect x="431.5" y="596.4" width="35.5" height="9.0" fill="#fff" opacity="0.12" filter="url(#b3)"/>
<rect x="431.5" y="611.3" width="35.5" height="9.0" fill="#fff" opacity="0.11" filter="url(#b3)"/>
<rect x="431.5" y="631.7" width="35.5" height="9.0" fill="#fff" opacity="0.11" filter="url(#b3)"/>
<rect x="430.5" y="652.7" width="37.5" height="11.0" fill="#fff" opacity="0.19" filter="url(#b3)"/>
<rect x="430.5" y="692.1" width="37.5" height="11.5" fill="#fff" opacity="0.19" filter="url(#b3)"/>
<rect x="431.5" y="736.2" width="35.5" height="11.0" fill="#fff" opacity="0.14" filter="url(#b3)"/>
<rect x="430.0" y="801.8" width="38.5" height="12.5" fill="#fff" opacity="0.20" filter="url(#b3)"/>
<rect x="431.5" y="890.4" width="35.5" height="10.5" fill="#fff" opacity="0.16" filter="url(#b3)"/>
<rect x="431.5" y="916.5" width="35.5" height="10.5" fill="#fff" opacity="0.14" filter="url(#b3)"/>
<rect x="431.5" y="600.0" width="35.5" height="1.8" fill="#fff" opacity="1.00" filter="url(#b1)"/>
<rect x="431.5" y="614.9" width="35.5" height="1.8" fill="#fff" opacity="0.92" filter="url(#b1)"/>
<rect x="431.5" y="635.3" width="35.5" height="1.8" fill="#fff" opacity="0.92" filter="url(#b1)"/>
<rect x="430.5" y="656.3" width="37.5" height="3.8" fill="#fff" opacity="1.00" filter="url(#b1)"/>
<rect x="431.5" y="656.3" width="35.5" height="3.8" fill="#fff" opacity="0.76" filter="url(#b1)"/>
<rect x="430.5" y="695.8" width="37.5" height="4.3" fill="#fff" opacity="1.00" filter="url(#b1)"/>
<rect x="431.5" y="695.8" width="35.5" height="4.3" fill="#fff" opacity="0.76" filter="url(#b1)"/>
<rect x="431.5" y="739.8" width="35.5" height="3.8" fill="#fff" opacity="0.92" filter="url(#b1)"/>
<rect x="430.0" y="805.4" width="38.5" height="5.3" fill="#fff" opacity="1.00" filter="url(#b1)"/>
<rect x="431.0" y="805.4" width="36.5" height="5.3" fill="#fff" opacity="0.80" filter="url(#b1)"/>
<rect x="431.5" y="894.0" width="35.5" height="3.3" fill="#fff" opacity="1.00" filter="url(#b1)"/>
<rect x="431.5" y="920.1" width="35.5" height="3.3" fill="#fff" opacity="0.95" filter="url(#b1)"/>
</g>
<clipPath id="c7"><rect x="479.7" y="579.2" width="56.6" height="354.1"/></clipPath>
<g clip-path="url(#c7)">
<rect x="479.7" y="579.2" width="56.6" height="354.1" fill="#040404"/>
<linearGradient id="g7" gradientUnits="userSpaceOnUse" x1="0" y1="579.2" x2="0" y2="933.3"><stop offset="-0.001" stop-color="#464646"/><stop offset="0.047" stop-color="#545454"/><stop offset="0.087" stop-color="#5a5a5a"/><stop offset="0.172" stop-color="#4c4c4c"/><stop offset="0.200" stop-color="#343434"/><stop offset="0.511" stop-color="#2e2e2e"/><stop offset="0.793" stop-color="#2a2a2a"/><stop offset="0.864" stop-color="#2e2e2e"/><stop offset="0.999" stop-color="#2a2a2a"/></linearGradient>
<rect x="489.5" y="574.2" width="35.0" height="364.1" fill="url(#g7)" filter="url(#bl)"/>
<rect x="483.5" y="593.2" width="47.0" height="16.0" fill="#fff" opacity="0.14" filter="url(#b3)"/>
<rect x="483.5" y="594.7" width="47.0" height="13.0" fill="#fff" opacity="0.14" filter="url(#b3)"/>
<rect x="487.5" y="623.8" width="39.0" height="9.5" fill="#fff" opacity="0.11" filter="url(#b3)"/>
<rect x="488.5" y="693.1" width="37.0" height="9.5" fill="#fff" opacity="0.10" filter="url(#b3)"/>
<rect x="488.5" y="717.0" width="37.0" height="10.5" fill="#fff" opacity="0.19" filter="url(#b3)"/>
<rect x="488.5" y="751.0" width="37.0" height="10.5" fill="#fff" opacity="0.20" filter="url(#b3)"/>
<rect x="487.5" y="863.5" width="39.0" height="15.0" fill="#fff" opacity="0.20" filter="url(#b3)"/>
<rect x="482.5" y="593.8" width="49.0" height="14.8" fill="#fff" opacity="0.39" filter="url(#b2)"/>
<rect x="483.5" y="596.8" width="47.0" height="8.8" fill="#fff" opacity="0.82" filter="url(#b2)"/>
<rect x="483.5" y="598.3" width="47.0" height="5.8" fill="#fff" opacity="0.87" filter="url(#b2)"/>
<rect x="485.5" y="616.2" width="43.0" height="1.6" fill="#fff" opacity="0.55" filter="url(#b1)"/>
<rect x="486.5" y="621.2" width="41.0" height="1.6" fill="#fff" opacity="0.55" filter="url(#b1)"/>
<rect x="487.5" y="627.4" width="39.0" height="2.3" fill="#fff" opacity="0.84" filter="url(#b1)"/>
<rect x="488.5" y="632.2" width="37.0" height="1.6" fill="#fff" opacity="0.47" filter="url(#b1)"/>
<rect x="488.5" y="645.1" width="37.0" height="1.8" fill="#fff" opacity="0.30" filter="url(#b1)"/>
<rect x="488.5" y="659.1" width="37.0" height="1.8" fill="#fff" opacity="0.30" filter="url(#b1)"/>
<rect x="488.5" y="675.1" width="37.0" height="1.8" fill="#fff" opacity="0.27" filter="url(#b1)"/>
<rect x="488.5" y="696.8" width="37.0" height="2.3" fill="#fff" opacity="0.76" filter="url(#b1)"/>
<rect x="488.5" y="720.6" width="37.0" height="3.3" fill="#fff" opacity="1.00" filter="url(#b1)"/>
<rect x="489.5" y="720.6" width="35.0" height="3.3" fill="#fff" opacity="0.76" filter="url(#b1)"/>
<rect x="488.5" y="743.8" width="37.0" height="2.3" fill="#fff" opacity="0.49" filter="url(#b1)"/>
<rect x="488.5" y="754.6" width="37.0" height="3.3" fill="#fff" opacity="1.00" filter="url(#b1)"/>
<rect x="489.5" y="754.6" width="35.0" height="3.3" fill="#fff" opacity="0.80" filter="url(#b1)"/>
<rect x="488.5" y="782.1" width="37.0" height="1.8" fill="#fff" opacity="0.30" filter="url(#b1)"/>
<rect x="488.5" y="806.1" width="37.0" height="4.8" fill="#fff" opacity="0.48" filter="url(#b1)"/>
<rect x="488.5" y="829.1" width="37.0" height="1.8" fill="#fff" opacity="0.22" filter="url(#b1)"/>
<rect x="488.5" y="847.2" width="37.0" height="2.8" fill="#fff" opacity="0.31" filter="url(#b1)"/>
<rect x="487.5" y="867.1" width="39.0" height="7.8" fill="#fff" opacity="1.00" filter="url(#b2)"/>
<rect x="488.5" y="867.1" width="37.0" height="7.8" fill="#fff" opacity="0.80" filter="url(#b1)"/>
<rect x="488.5" y="887.6" width="37.0" height="2.8" fill="#fff" opacity="0.31" filter="url(#b1)"/>
<rect x="488.5" y="904.1" width="37.0" height="1.8" fill="#fff" opacity="0.22" filter="url(#b1)"/>
<rect x="488.5" y="919.1" width="37.0" height="1.8" fill="#fff" opacity="0.22" filter="url(#b1)"/>
</g>
<clipPath id="c8"><rect x="542.9" y="579.2" width="60.1" height="354.1"/></clipPath>
<g clip-path="url(#c8)">
<rect x="542.9" y="579.2" width="60.1" height="354.1" fill="#040404"/>
<linearGradient id="g8" gradientUnits="userSpaceOnUse" x1="0" y1="579.2" x2="0" y2="933.3"><stop offset="-0.001" stop-color="#424242"/><stop offset="0.047" stop-color="#505050"/><stop offset="0.087" stop-color="#545454"/><stop offset="0.172" stop-color="#464646"/><stop offset="0.200" stop-color="#323232"/><stop offset="0.511" stop-color="#2c2c2c"/><stop offset="0.793" stop-color="#282828"/><stop offset="0.864" stop-color="#2a2a2a"/><stop offset="0.999" stop-color="#262626"/></linearGradient>
<rect x="551.5" y="574.2" width="36.5" height="364.1" fill="url(#g8)" filter="url(#bl)"/>
<rect x="545.5" y="594.5" width="48.5" height="16.0" fill="#fff" opacity="0.14" filter="url(#b3)"/>
<rect x="545.5" y="596.0" width="48.5" height="13.0" fill="#fff" opacity="0.14" filter="url(#b3)"/>
<rect x="548.5" y="610.0" width="42.5" height="10.0" fill="#fff" opacity="0.14" filter="url(#b3)"/>
<rect x="549.5" y="621.2" width="40.5" height="9.5" fill="#fff" opacity="0.11" filter="url(#b3)"/>
<rect x="550.5" y="716.7" width="38.5" height="11.0" fill="#fff" opacity="0.19" filter="url(#b3)"/>
<rect x="550.5" y="751.8" width="38.5" height="10.5" fill="#fff" opacity="0.18" filter="url(#b3)"/>
<rect x="549.5" y="864.8" width="40.5" height="15.0" fill="#fff" opacity="0.20" filter="url(#b3)"/>
<rect x="544.5" y="595.1" width="50.5" height="14.8" fill="#fff" opacity="0.38" filter="url(#b2)"/>
<rect x="545.5" y="598.1" width="48.5" height="8.8" fill="#fff" opacity="0.80" filter="url(#b2)"/>
<rect x="545.5" y="599.6" width="48.5" height="5.8" fill="#fff" opacity="0.84" filter="url(#b2)"/>
<rect x="548.5" y="613.6" width="42.5" height="2.8" fill="#fff" opacity="1.00" filter="url(#b1)"/>
<rect x="549.5" y="624.9" width="40.5" height="2.3" fill="#fff" opacity="0.84" filter="url(#b1)"/>
<rect x="550.5" y="632.2" width="38.5" height="1.6" fill="#fff" opacity="0.44" filter="url(#b1)"/>
<rect x="550.5" y="645.1" width="38.5" height="1.8" fill="#fff" opacity="0.27" filter="url(#b1)"/>
<rect x="550.5" y="659.1" width="38.5" height="1.8" fill="#fff" opacity="0.27" filter="url(#b1)"/>
<rect x="550.5" y="675.1" width="38.5" height="1.8" fill="#fff" opacity="0.27" filter="url(#b1)"/>
<rect x="550.5" y="696.8" width="38.5" height="2.3" fill="#fff" opacity="0.68" filter="url(#b1)"/>
<rect x="550.5" y="720.3" width="38.5" height="3.8" fill="#fff" opacity="1.00" filter="url(#b1)"/>
<rect x="551.5" y="720.3" width="36.5" height="3.8" fill="#fff" opacity="0.76" filter="url(#b1)"/>
<rect x="550.5" y="743.8" width="38.5" height="2.3" fill="#fff" opacity="0.43" filter="url(#b1)"/>
<rect x="550.5" y="755.4" width="38.5" height="3.3" fill="#fff" opacity="1.00" filter="url(#b1)"/>
<rect x="551.5" y="755.4" width="36.5" height="3.3" fill="#fff" opacity="0.72" filter="url(#b1)"/>
<rect x="550.5" y="782.1" width="38.5" height="1.8" fill="#fff" opacity="0.27" filter="url(#b1)"/>
<rect x="550.5" y="807.1" width="38.5" height="4.8" fill="#fff" opacity="0.45" filter="url(#b1)"/>
<rect x="550.5" y="829.1" width="38.5" height="1.8" fill="#fff" opacity="0.17" filter="url(#b1)"/>
<rect x="550.5" y="848.4" width="38.5" height="2.8" fill="#fff" opacity="0.29" filter="url(#b1)"/>
<rect x="549.5" y="868.4" width="40.5" height="7.8" fill="#fff" opacity="1.00" filter="url(#b2)"/>
<rect x="550.5" y="868.4" width="38.5" height="7.8" fill="#fff" opacity="0.80" filter="url(#b1)"/>
<rect x="550.5" y="887.6" width="38.5" height="2.8" fill="#fff" opacity="0.29" filter="url(#b1)"/>
<rect x="550.5" y="904.1" width="38.5" height="1.8" fill="#fff" opacity="0.17" filter="url(#b1)"/>
<rect x="550.5" y="919.1" width="38.5" height="1.8" fill="#fff" opacity="0.17" filter="url(#b1)"/>
</g>
<clipPath id="c9"><rect x="609.5" y="579.2" width="61.4" height="354.1"/></clipPath>
<g clip-path="url(#c9)">
<rect x="609.5" y="579.2" width="61.4" height="354.1" fill="#0c0c0c"/>
<linearGradient id="g9" gradientUnits="userSpaceOnUse" x1="0" y1="579.2" x2="0" y2="933.3"><stop offset="-0.001" stop-color="#787878"/><stop offset="0.047" stop-color="#8c8c8c"/><stop offset="0.093" stop-color="#787878"/><stop offset="0.200" stop-color="#585858"/><stop offset="0.341" stop-color="#484848"/><stop offset="0.511" stop-color="#404040"/><stop offset="0.765" stop-color="#3c3c3c"/><stop offset="0.906" stop-color="#424242"/><stop offset="0.999" stop-color="#4c4c4c"/></linearGradient>
<rect x="622.0" y="574.2" width="36.5" height="364.1" fill="url(#g9)" filter="url(#bl)"/>
<rect x="614.0" y="591.0" width="52.5" height="21.0" fill="#fff" opacity="0.10" filter="url(#b3)"/>
<rect x="615.0" y="594.0" width="50.5" height="15.0" fill="#fff" opacity="0.20" filter="url(#b3)"/>
<rect x="615.0" y="595.5" width="50.5" height="12.0" fill="#fff" opacity="0.20" filter="url(#b3)"/>
<rect x="621.0" y="641.7" width="38.5" height="10.0" fill="#fff" opacity="0.14" filter="url(#b3)"/>
<rect x="621.0" y="693.2" width="38.5" height="9.5" fill="#fff" opacity="0.12" filter="url(#b3)"/>
<rect x="621.0" y="708.5" width="38.5" height="10.5" fill="#fff" opacity="0.12" filter="url(#b3)"/>
<rect x="620.0" y="843.9" width="40.5" height="12.0" fill="#fff" opacity="0.12" filter="url(#b3)"/>
<rect x="620.0" y="864.3" width="40.5" height="15.0" fill="#fff" opacity="0.12" filter="url(#b3)"/>
<rect x="621.0" y="923.5" width="38.5" height="11.0" fill="#fff" opacity="0.10" filter="url(#b3)"/>
<rect x="614.0" y="594.6" width="52.5" height="13.8" fill="#fff" opacity="0.54" filter="url(#b2)"/>
<rect x="615.0" y="597.6" width="50.5" height="7.8" fill="#fff" opacity="1.00" filter="url(#b2)"/>
<rect x="616.0" y="597.6" width="48.5" height="7.8" fill="#fff" opacity="0.80" filter="url(#b1)"/>
<rect x="615.0" y="599.1" width="50.5" height="4.8" fill="#fff" opacity="1.00" filter="url(#b1)"/>
<rect x="616.0" y="599.1" width="48.5" height="4.8" fill="#fff" opacity="0.80" filter="url(#b1)"/>
<rect x="617.0" y="616.2" width="46.5" height="1.6" fill="#fff" opacity="0.47" filter="url(#b1)"/>
<rect x="618.0" y="621.2" width="44.5" height="1.6" fill="#fff" opacity="0.47" filter="url(#b1)"/>
<rect x="619.0" y="627.2" width="42.5" height="1.6" fill="#fff" opacity="0.47" filter="url(#b1)"/>
<rect x="620.0" y="633.2" width="40.5" height="1.6" fill="#fff" opacity="0.44" filter="url(#b1)"/>
<rect x="621.0" y="645.3" width="38.5" height="2.8" fill="#fff" opacity="1.00" filter="url(#b1)"/>
<rect x="621.0" y="657.8" width="38.5" height="2.3" fill="#fff" opacity="0.55" filter="url(#b1)"/>
<rect x="621.0" y="667.1" width="38.5" height="1.8" fill="#fff" opacity="0.37" filter="url(#b1)"/>
<rect x="621.0" y="679.1" width="38.5" height="1.8" fill="#fff" opacity="0.37" filter="url(#b1)"/>
<rect x="621.0" y="696.9" width="38.5" height="2.3" fill="#fff" opacity="0.94" filter="url(#b1)"/>
<rect x="621.0" y="702.1" width="38.5" height="1.8" fill="#fff" opacity="0.60" filter="url(#b1)"/>
<rect x="621.0" y="712.1" width="38.5" height="3.3" fill="#fff" opacity="0.85" filter="url(#b1)"/>
<rect x="621.0" y="721.1" width="38.5" height="2.3" fill="#fff" opacity="0.61" filter="url(#b1)"/>
<rect x="621.0" y="743.5" width="38.5" height="3.8" fill="#fff" opacity="0.42" filter="url(#b1)"/>
<rect x="621.0" y="769.1" width="38.5" height="1.8" fill="#fff" opacity="0.30" filter="url(#b1)"/>
<rect x="621.0" y="788.9" width="38.5" height="2.3" fill="#fff" opacity="0.33" filter="url(#b1)"/>
<rect x="621.0" y="814.1" width="38.5" height="1.8" fill="#fff" opacity="0.30" filter="url(#b1)"/>
<rect x="621.0" y="831.1" width="38.5" height="1.8" fill="#fff" opacity="0.37" filter="url(#b1)"/>
<rect x="620.0" y="847.5" width="40.5" height="4.8" fill="#fff" opacity="0.78" filter="url(#b1)"/>
<rect x="620.0" y="867.9" width="40.5" height="7.8" fill="#fff" opacity="0.72" filter="url(#b2)"/>
<rect x="621.0" y="894.1" width="38.5" height="1.8" fill="#fff" opacity="0.30" filter="url(#b1)"/>
<rect x="621.0" y="909.1" width="38.5" height="1.8" fill="#fff" opacity="0.37" filter="url(#b1)"/>
<rect x="621.0" y="927.1" width="38.5" height="3.8" fill="#fff" opacity="0.66" filter="url(#b1)"/>
</g>
<clipPath id="c10"><rect x="677.2" y="579.2" width="58.7" height="354.1"/></clipPath>
<g clip-path="url(#c10)">
<rect x="677.2" y="579.2" width="58.7" height="354.1" fill="#0a0a0a"/>
<linearGradient id="g10" gradientUnits="userSpaceOnUse" x1="0" y1="579.2" x2="0" y2="933.3"><stop offset="-0.001" stop-color="#787878"/><stop offset="0.047" stop-color="#969696"/><stop offset="0.093" stop-color="#787878"/><stop offset="0.200" stop-color="#545454"/><stop offset="0.341" stop-color="#444444"/><stop offset="0.511" stop-color="#3c3c3c"/><stop offset="0.765" stop-color="#383838"/><stop offset="0.906" stop-color="#3c3c3c"/><stop offset="0.999" stop-color="#3e3e3e"/></linearGradient>
<rect x="685.5" y="574.2" width="38.0" height="364.1" fill="url(#g10)" filter="url(#bl)"/>
<rect x="678.5" y="589.7" width="52.0" height="24.0" fill="#fff" opacity="0.10" filter="url(#b3)"/>
<rect x="679.5" y="592.7" width="50.0" height="18.0" fill="#fff" opacity="0.20" filter="url(#b3)"/>
<rect x="679.5" y="594.2" width="50.0" height="15.0" fill="#fff" opacity="0.20" filter="url(#b3)"/>
<rect x="684.5" y="640.0" width="40.0" height="10.0" fill="#fff" opacity="0.14" filter="url(#b3)"/>
<rect x="684.5" y="693.2" width="40.0" height="9.5" fill="#fff" opacity="0.11" filter="url(#b3)"/>
<rect x="684.5" y="707.0" width="40.0" height="11.0" fill="#fff" opacity="0.15" filter="url(#b3)"/>
<rect x="683.5" y="843.9" width="42.0" height="12.0" fill="#fff" opacity="0.14" filter="url(#b3)"/>
<rect x="683.5" y="865.0" width="42.0" height="15.0" fill="#fff" opacity="0.14" filter="url(#b3)"/>
<rect x="678.5" y="593.3" width="52.0" height="16.8" fill="#fff" opacity="0.54" filter="url(#b2)"/>
<rect x="679.5" y="596.3" width="50.0" height="10.8" fill="#fff" opacity="1.00" filter="url(#b2)"/>
<rect x="680.5" y="596.3" width="48.0" height="10.8" fill="#fff" opacity="0.80" filter="url(#b1)"/>
<rect x="679.5" y="597.8" width="50.0" height="7.8" fill="#fff" opacity="1.00" filter="url(#b2)"/>
<rect x="680.5" y="597.8" width="48.0" height="7.8" fill="#fff" opacity="0.80" filter="url(#b1)"/>
<rect x="680.5" y="617.2" width="48.0" height="1.6" fill="#fff" opacity="0.55" filter="url(#b1)"/>
<rect x="681.5" y="623.2" width="46.0" height="1.6" fill="#fff" opacity="0.47" filter="url(#b1)"/>
<rect x="682.5" y="629.2" width="44.0" height="1.6" fill="#fff" opacity="0.47" filter="url(#b1)"/>
<rect x="683.5" y="635.2" width="42.0" height="1.6" fill="#fff" opacity="0.44" filter="url(#b1)"/>
<rect x="684.5" y="643.6" width="40.0" height="2.8" fill="#fff" opacity="0.97" filter="url(#b1)"/>
<rect x="684.5" y="655.4" width="40.0" height="2.3" fill="#fff" opacity="0.55" filter="url(#b1)"/>
<rect x="684.5" y="667.1" width="40.0" height="1.8" fill="#fff" opacity="0.37" filter="url(#b1)"/>
<rect x="684.5" y="679.1" width="40.0" height="1.8" fill="#fff" opacity="0.33" filter="url(#b1)"/>
<rect x="684.5" y="696.9" width="40.0" height="2.3" fill="#fff" opacity="0.84" filter="url(#b1)"/>
<rect x="684.5" y="710.6" width="40.0" height="3.8" fill="#fff" opacity="0.99" filter="url(#b1)"/>
<rect x="684.5" y="719.9" width="40.0" height="2.3" fill="#fff" opacity="0.55" filter="url(#b1)"/>
<rect x="684.5" y="743.5" width="40.0" height="3.8" fill="#fff" opacity="0.37" filter="url(#b1)"/>
<rect x="684.5" y="769.1" width="40.0" height="1.8" fill="#fff" opacity="0.30" filter="url(#b1)"/>
<rect x="684.5" y="788.9" width="40.0" height="2.3" fill="#fff" opacity="0.38" filter="url(#b1)"/>
<rect x="684.5" y="814.1" width="40.0" height="1.8" fill="#fff" opacity="0.30" filter="url(#b1)"/>
<rect x="684.5" y="831.1" width="40.0" height="1.8" fill="#fff" opacity="0.33" filter="url(#b1)"/>
<rect x="683.5" y="847.5" width="42.0" height="4.8" fill="#fff" opacity="0.85" filter="url(#b1)"/>
<rect x="683.5" y="868.6" width="42.0" height="7.8" fill="#fff" opacity="0.83" filter="url(#b2)"/>
<rect x="684.5" y="894.1" width="40.0" height="1.8" fill="#fff" opacity="0.30" filter="url(#b1)"/>
<rect x="684.5" y="909.1" width="40.0" height="1.8" fill="#fff" opacity="0.33" filter="url(#b1)"/>
<rect x="684.5" y="924.1" width="40.0" height="1.8" fill="#fff" opacity="0.30" filter="url(#b1)"/>
</g>
<clipPath id="c11"><rect x="103.4" y="973.3" width="48.0" height="363.7"/></clipPath>
<g clip-path="url(#c11)">
<rect x="103.4" y="973.3" width="48.0" height="363.7" fill="#202020"/>
<linearGradient id="g11" gradientUnits="userSpaceOnUse" x1="0" y1="973.3" x2="0" y2="1337.0"><stop offset="0.002" stop-color="#484848"/><stop offset="0.238" stop-color="#464646"/><stop offset="0.348" stop-color="#404040"/><stop offset="0.596" stop-color="#383838"/><stop offset="0.637" stop-color="#282828"/><stop offset="0.871" stop-color="#262626"/><stop offset="1.000" stop-color="#2c2c2c"/></linearGradient>
<rect x="115.5" y="968.3" width="30.9" height="373.7" fill="url(#g11)" filter="url(#bl)"/>
<rect x="114.5" y="990.7" width="32.9" height="11.0" fill="#fff" opacity="0.10" filter="url(#b3)"/>
<rect x="114.5" y="1005.3" width="32.9" height="11.0" fill="#fff" opacity="0.11" filter="url(#b3)"/>
<rect x="114.5" y="1025.5" width="32.9" height="11.5" fill="#fff" opacity="0.11" filter="url(#b3)"/>
<rect x="112.5" y="1046.4" width="36.9" height="15.0" fill="#fff" opacity="0.20" filter="url(#b3)"/>
<rect x="113.0" y="1085.3" width="35.9" height="16.0" fill="#fff" opacity="0.20" filter="url(#b3)"/>
<rect x="114.5" y="1132.9" width="32.9" height="14.0" fill="#fff" opacity="0.12" filter="url(#b3)"/>
<rect x="112.0" y="1183.9" width="37.9" height="16.0" fill="#fff" opacity="0.20" filter="url(#b3)"/>
<rect x="113.5" y="1291.8" width="34.9" height="12.5" fill="#fff" opacity="0.20" filter="url(#b3)"/>
<rect x="114.5" y="1307.0" width="32.9" height="12.5" fill="#fff" opacity="0.15" filter="url(#b3)"/>
<rect x="114.5" y="994.3" width="32.9" height="3.8" fill="#fff" opacity="0.66" filter="url(#b1)"/>
<rect x="114.5" y="1008.9" width="32.9" height="3.8" fill="#fff" opacity="0.72" filter="url(#b1)"/>
<rect x="114.5" y="1029.0" width="32.9" height="4.3" fill="#fff" opacity="0.70" filter="url(#b1)"/>
<rect x="112.5" y="1050.0" width="36.9" height="7.8" fill="#fff" opacity="1.00" filter="url(#b2)"/>
<rect x="113.5" y="1050.0" width="34.9" height="7.8" fill="#fff" opacity="0.80" filter="url(#b1)"/>
<rect x="113.0" y="1088.9" width="35.9" height="8.8" fill="#fff" opacity="1.00" filter="url(#b2)"/>
<rect x="114.0" y="1088.9" width="33.9" height="8.8" fill="#fff" opacity="0.80" filter="url(#b1)"/>
<rect x="114.5" y="1136.5" width="32.9" height="6.8" fill="#fff" opacity="0.71" filter="url(#b2)"/>
<rect x="112.0" y="1187.5" width="37.9" height="8.8" fill="#fff" opacity="1.00" filter="url(#b2)"/>
<rect x="113.0" y="1187.5" width="35.9" height="8.8" fill="#fff" opacity="0.80" filter="url(#b1)"/>
<rect x="113.5" y="1295.4" width="34.9" height="5.3" fill="#fff" opacity="1.00" filter="url(#b1)"/>
<rect x="114.5" y="1295.4" width="32.9" height="5.3" fill="#fff" opacity="0.80" filter="url(#b1)"/>
<rect x="114.5" y="1310.5" width="32.9" height="5.3" fill="#fff" opacity="0.92" filter="url(#b1)"/>
</g>
<clipPath id="c12"><rect x="158.2" y="974.8" width="63.0" height="362.2"/></clipPath>
<g clip-path="url(#c12)">
<rect x="158.2" y="974.8" width="63.0" height="362.2" fill="#090909"/>
<linearGradient id="g12" gradientUnits="userSpaceOnUse" x1="0" y1="974.8" x2="0" y2="1337.0"><stop offset="0.001" stop-color="#303030"/><stop offset="0.180" stop-color="#303030"/><stop offset="0.401" stop-color="#323232"/><stop offset="0.511" stop-color="#2e2e2e"/><stop offset="0.580" stop-color="#242424"/><stop offset="0.663" stop-color="#242424"/><stop offset="0.718" stop-color="#202020"/><stop offset="1.000" stop-color="#1e1e1e"/></linearGradient>
<rect x="170.5" y="969.8" width="35.3" height="372.2" fill="url(#g12)" filter="url(#bl)"/>
<rect x="168.5" y="1037.4" width="39.3" height="10.0" fill="#fff" opacity="0.19" filter="url(#b3)"/>
<rect x="169.5" y="1117.3" width="37.3" height="12.0" fill="#fff" opacity="0.11" filter="url(#b3)"/>
<rect x="169.5" y="1144.5" width="37.3" height="11.0" fill="#fff" opacity="0.12" filter="url(#b3)"/>
<rect x="168.5" y="1212.2" width="39.3" height="12.0" fill="#fff" opacity="0.10" filter="url(#b3)"/>
<rect x="169.5" y="1001.6" width="37.3" height="2.3" fill="#fff" opacity="0.46" filter="url(#b1)"/>
<rect x="169.5" y="1019.1" width="37.3" height="1.8" fill="#fff" opacity="0.20" filter="url(#b1)"/>
<rect x="168.5" y="1041.0" width="39.3" height="2.8" fill="#fff" opacity="1.00" filter="url(#b1)"/>
<rect x="169.5" y="1041.0" width="37.3" height="2.8" fill="#fff" opacity="0.76" filter="url(#b1)"/>
<rect x="169.5" y="1061.1" width="37.3" height="1.8" fill="#fff" opacity="0.20" filter="url(#b1)"/>
<rect x="169.5" y="1083.1" width="37.3" height="2.3" fill="#fff" opacity="0.30" filter="url(#b1)"/>
<rect x="169.5" y="1099.1" width="37.3" height="1.8" fill="#fff" opacity="0.20" filter="url(#b1)"/>
<rect x="169.5" y="1120.9" width="37.3" height="4.8" fill="#fff" opacity="0.69" filter="url(#b1)"/>
<rect x="169.5" y="1148.1" width="37.3" height="3.8" fill="#fff" opacity="0.79" filter="url(#b1)"/>
<rect x="169.5" y="1170.6" width="37.3" height="2.8" fill="#fff" opacity="0.21" filter="url(#b1)"/>
<rect x="168.5" y="1215.8" width="39.3" height="4.8" fill="#fff" opacity="0.62" filter="url(#b1)"/>
<rect x="169.5" y="1270.6" width="37.3" height="4.8" fill="#fff" opacity="0.20" filter="url(#b1)"/>
</g>
<clipPath id="c13"><rect x="226.9" y="974.8" width="61.2" height="362.2"/></clipPath>
<g clip-path="url(#c13)">
<rect x="226.9" y="974.8" width="61.2" height="362.2" fill="#080808"/>
<linearGradient id="g13" gradientUnits="userSpaceOnUse" x1="0" y1="974.8" x2="0" y2="1337.0"><stop offset="0.001" stop-color="#2c2c2c"/><stop offset="0.180" stop-color="#2c2c2c"/><stop offset="0.401" stop-color="#2e2e2e"/><stop offset="0.511" stop-color="#2a2a2a"/><stop offset="0.580" stop-color="#202020"/><stop offset="0.663" stop-color="#202020"/><stop offset="0.718" stop-color="#1c1c1c"/><stop offset="1.000" stop-color="#1a1a1a"/></linearGradient>
<rect x="239.8" y="969.8" width="35.7" height="372.2" fill="url(#g13)" filter="url(#bl)"/>
<rect x="237.8" y="1038.2" width="39.7" height="9.5" fill="#fff" opacity="0.17" filter="url(#b3)"/>
<rect x="238.8" y="1117.3" width="37.7" height="12.0" fill="#fff" opacity="0.10" filter="url(#b3)"/>
<rect x="238.8" y="1145.0" width="37.7" height="11.0" fill="#fff" opacity="0.11" filter="url(#b3)"/>
<rect x="237.8" y="1212.2" width="39.7" height="12.0" fill="#fff" opacity="0.10" filter="url(#b3)"/>
<rect x="238.8" y="1002.9" width="37.7" height="2.3" fill="#fff" opacity="0.43" filter="url(#b1)"/>
<rect x="238.8" y="1019.1" width="37.7" height="1.8" fill="#fff" opacity="0.17" filter="url(#b1)"/>
<rect x="237.8" y="1041.8" width="39.7" height="2.3" fill="#fff" opacity="1.00" filter="url(#b1)"/>
<rect x="238.8" y="1041.8" width="37.7" height="2.3" fill="#fff" opacity="0.68" filter="url(#b1)"/>
<rect x="238.8" y="1061.1" width="37.7" height="1.8" fill="#fff" opacity="0.17" filter="url(#b1)"/>
<rect x="238.8" y="1083.1" width="37.7" height="2.3" fill="#fff" opacity="0.23" filter="url(#b1)"/>
<rect x="238.8" y="1120.9" width="37.7" height="4.8" fill="#fff" opacity="0.62" filter="url(#b1)"/>
<rect x="238.8" y="1148.6" width="37.7" height="3.8" fill="#fff" opacity="0.72" filter="url(#b1)"/>
<rect x="238.8" y="1170.6" width="37.7" height="2.8" fill="#fff" opacity="0.17" filter="url(#b1)"/>
<rect x="237.8" y="1215.8" width="39.7" height="4.8" fill="#fff" opacity="0.62" filter="url(#b1)"/>
<rect x="238.8" y="1270.6" width="37.7" height="4.8" fill="#fff" opacity="0.13" filter="url(#b1)"/>
</g>
<clipPath id="c14"><rect x="294.3" y="974.8" width="58.1" height="362.2"/></clipPath>
<g clip-path="url(#c14)">
<rect x="294.3" y="974.8" width="58.1" height="362.2" fill="#242424"/>
<linearGradient id="g14" gradientUnits="userSpaceOnUse" x1="0" y1="974.8" x2="0" y2="1337.0"><stop offset="0.001" stop-color="#585858"/><stop offset="0.152" stop-color="#606060"/><stop offset="0.373" stop-color="#666666"/><stop offset="0.415" stop-color="#585858"/><stop offset="0.539" stop-color="#4a4a4a"/><stop offset="0.622" stop-color="#424242"/><stop offset="0.787" stop-color="#3e3e3e"/><stop offset="1.000" stop-color="#444444"/></linearGradient>
<rect x="303.2" y="969.8" width="39.2" height="372.2" fill="url(#g14)" filter="url(#bl)"/>
<rect x="301.2" y="1032.8" width="43.2" height="10.5" fill="#fff" opacity="0.19" filter="url(#b3)"/>
<rect x="301.2" y="1109.0" width="43.2" height="14.0" fill="#fff" opacity="0.18" filter="url(#b3)"/>
<rect x="302.2" y="997.9" width="41.2" height="2.3" fill="#fff" opacity="0.46" filter="url(#b1)"/>
<rect x="302.2" y="1011.1" width="41.2" height="1.8" fill="#fff" opacity="0.25" filter="url(#b1)"/>
<rect x="301.2" y="1036.3" width="43.2" height="3.3" fill="#fff" opacity="1.00" filter="url(#b1)"/>
<rect x="302.2" y="1036.3" width="41.2" height="3.3" fill="#fff" opacity="0.76" filter="url(#b1)"/>
<rect x="302.2" y="1051.1" width="41.2" height="1.8" fill="#fff" opacity="0.33" filter="url(#b1)"/>
<rect x="302.2" y="1061.6" width="41.2" height="1.8" fill="#fff" opacity="0.42" filter="url(#b1)"/>
<rect x="302.2" y="1073.1" width="41.2" height="1.8" fill="#fff" opacity="0.33" filter="url(#b1)"/>
<rect x="302.2" y="1083.3" width="41.2" height="2.3" fill="#fff" opacity="0.38" filter="url(#b1)"/>
<rect x="302.2" y="1098.6" width="41.2" height="2.8" fill="#fff" opacity="0.29" filter="url(#b1)"/>
<rect x="301.2" y="1112.6" width="43.2" height="6.8" fill="#fff" opacity="1.00" filter="url(#b2)"/>
<rect x="302.2" y="1112.6" width="41.2" height="6.8" fill="#fff" opacity="0.72" filter="url(#b1)"/>
<rect x="302.2" y="1125.1" width="41.2" height="1.8" fill="#fff" opacity="0.50" filter="url(#b1)"/>
<rect x="302.2" y="1137.1" width="41.2" height="1.8" fill="#fff" opacity="0.33" filter="url(#b1)"/>
<rect x="302.2" y="1149.1" width="41.2" height="1.8" fill="#fff" opacity="0.33" filter="url(#b1)"/>
<rect x="302.2" y="1213.4" width="41.2" height="3.8" fill="#fff" opacity="0.39" filter="url(#b1)"/>
<rect x="301.2" y="1267.4" width="43.2" height="4.8" fill="#fff" opacity="0.56" filter="url(#b1)"/>
</g>
<clipPath id="c15"><rect x="358.6" y="974.8" width="49.4" height="362.2"/></clipPath>
<g clip-path="url(#c15)">
<rect x="358.6" y="974.8" width="49.4" height="362.2" fill="#1c1c1c"/>
<linearGradient id="g15" gradientUnits="userSpaceOnUse" x1="0" y1="974.8" x2="0" y2="1337.0"><stop offset="0.001" stop-color="#464646"/><stop offset="0.152" stop-color="#4a4a4a"/><stop offset="0.373" stop-color="#484848"/><stop offset="0.415" stop-color="#3e3e3e"/><stop offset="0.539" stop-color="#323232"/><stop offset="0.622" stop-color="#2e2e2e"/><stop offset="0.787" stop-color="#2c2c2c"/><stop offset="1.000" stop-color="#2e2e2e"/></linearGradient>
<rect x="364.0" y="969.8" width="36.8" height="372.2" fill="url(#g15)" filter="url(#bl)"/>
<rect x="362.0" y="1034.3" width="40.8" height="10.0" fill="#fff" opacity="0.15" filter="url(#b3)"/>
<rect x="362.0" y="1111.9" width="40.8" height="13.0" fill="#fff" opacity="0.13" filter="url(#b3)"/>
<rect x="363.0" y="1000.4" width="38.8" height="2.3" fill="#fff" opacity="0.43" filter="url(#b1)"/>
<rect x="363.0" y="1013.1" width="38.8" height="1.8" fill="#fff" opacity="0.20" filter="url(#b1)"/>
<rect x="362.0" y="1037.9" width="40.8" height="2.8" fill="#fff" opacity="1.00" filter="url(#b1)"/>
<rect x="363.0" y="1061.6" width="38.8" height="1.8" fill="#fff" opacity="0.25" filter="url(#b1)"/>
<rect x="363.0" y="1083.3" width="38.8" height="2.3" fill="#fff" opacity="0.23" filter="url(#b1)"/>
<rect x="363.0" y="1098.6" width="38.8" height="2.8" fill="#fff" opacity="0.21" filter="url(#b1)"/>
<rect x="362.0" y="1115.5" width="40.8" height="5.8" fill="#fff" opacity="0.78" filter="url(#b2)"/>
<rect x="363.0" y="1127.1" width="38.8" height="1.8" fill="#fff" opacity="0.42" filter="url(#b1)"/>
<rect x="363.0" y="1149.1" width="38.8" height="1.8" fill="#fff" opacity="0.25" filter="url(#b1)"/>
<rect x="363.0" y="1217.5" width="38.8" height="3.8" fill="#fff" opacity="0.26" filter="url(#b1)"/>
<rect x="363.0" y="1270.6" width="38.8" height="4.8" fill="#fff" opacity="0.31" filter="url(#b1)"/>
</g>
<clipPath id="c16"><rect x="426.0" y="972.7" width="48.0" height="364.7"/></clipPath>
<g clip-path="url(#c16)">
<rect x="426.0" y="972.7" width="48.0" height="364.7" fill="#181818"/>
<linearGradient id="g16" gradientUnits="userSpaceOnUse" x1="0" y1="972.7" x2="0" y2="1337.4"><stop offset="0.001" stop-color="#343434"/><stop offset="0.349" stop-color="#323232"/><stop offset="0.623" stop-color="#2e2e2e"/><stop offset="0.664" stop-color="#262626"/><stop offset="0.969" stop-color="#242424"/></linearGradient>
<rect x="435.0" y="967.7" width="31.4" height="374.7" fill="url(#g16)" filter="url(#bl)"/>
<rect x="434.0" y="987.8" width="33.4" height="9.0" fill="#fff" opacity="0.16" filter="url(#b3)"/>
<rect x="434.0" y="1003.6" width="33.4" height="9.0" fill="#fff" opacity="0.14" filter="url(#b3)"/>
<rect x="434.0" y="1023.5" width="33.4" height="9.5" fill="#fff" opacity="0.16" filter="url(#b3)"/>
<rect x="431.5" y="1043.3" width="38.4" height="13.0" fill="#fff" opacity="0.20" filter="url(#b3)"/>
<rect x="432.0" y="1084.2" width="37.4" height="13.5" fill="#fff" opacity="0.20" filter="url(#b3)"/>
<rect x="434.0" y="1129.0" width="33.4" height="11.5" fill="#fff" opacity="0.17" filter="url(#b3)"/>
<rect x="431.5" y="1193.6" width="38.4" height="15.0" fill="#fff" opacity="0.20" filter="url(#b3)"/>
<rect x="433.0" y="1283.0" width="35.4" height="11.5" fill="#fff" opacity="0.18" filter="url(#b3)"/>
<rect x="433.0" y="1308.4" width="35.4" height="12.0" fill="#fff" opacity="0.18" filter="url(#b3)"/>
<rect x="434.0" y="991.4" width="33.4" height="1.8" fill="#fff" opacity="1.00" filter="url(#b1)"/>
<rect x="434.0" y="1007.2" width="33.4" height="1.8" fill="#fff" opacity="1.00" filter="url(#b1)"/>
<rect x="434.0" y="1027.1" width="33.4" height="2.3" fill="#fff" opacity="1.00" filter="url(#b1)"/>
<rect x="431.5" y="1046.9" width="38.4" height="5.8" fill="#fff" opacity="1.00" filter="url(#b2)"/>
<rect x="432.5" y="1046.9" width="36.4" height="5.8" fill="#fff" opacity="0.80" filter="url(#b1)"/>
<rect x="432.0" y="1087.8" width="37.4" height="6.3" fill="#fff" opacity="1.00" filter="url(#b2)"/>
<rect x="433.0" y="1087.8" width="35.4" height="6.3" fill="#fff" opacity="0.80" filter="url(#b1)"/>
<rect x="434.0" y="1132.6" width="33.4" height="4.3" fill="#fff" opacity="1.00" filter="url(#b1)"/>
<rect x="435.0" y="1132.6" width="31.4" height="4.3" fill="#fff" opacity="0.68" filter="url(#b1)"/>
<rect x="431.5" y="1197.2" width="38.4" height="7.8" fill="#fff" opacity="1.00" filter="url(#b2)"/>
<rect x="432.5" y="1197.2" width="36.4" height="7.8" fill="#fff" opacity="0.80" filter="url(#b1)"/>
<rect x="433.0" y="1286.6" width="35.4" height="4.3" fill="#fff" opacity="1.00" filter="url(#b1)"/>
<rect x="434.0" y="1286.6" width="33.4" height="4.3" fill="#fff" opacity="0.72" filter="url(#b1)"/>
<rect x="433.0" y="1312.0" width="35.4" height="4.8" fill="#fff" opacity="1.00" filter="url(#b1)"/>
<rect x="434.0" y="1312.0" width="33.4" height="4.8" fill="#fff" opacity="0.72" filter="url(#b1)"/>
<path d="M420 1328l60 -1.5v12h-60z" fill="#020202"/>
</g>
<clipPath id="c17"><rect x="480.3" y="972.7" width="55.7" height="364.7"/></clipPath>
<g clip-path="url(#c17)">
<rect x="480.3" y="972.7" width="55.7" height="364.7" fill="#030303"/>
<linearGradient id="g17" gradientUnits="userSpaceOnUse" x1="0" y1="972.7" x2="0" y2="1337.4"><stop offset="0.001" stop-color="#262626"/><stop offset="0.157" stop-color="#242424"/><stop offset="0.376" stop-color="#202020"/><stop offset="0.514" stop-color="#222222"/><stop offset="0.610" stop-color="#1e1e1e"/><stop offset="0.719" stop-color="#0e0e0e"/><stop offset="0.969" stop-color="#0a0a0a"/></linearGradient>
<rect x="494.0" y="967.7" width="33.0" height="374.7" fill="url(#g17)" filter="url(#bl)"/>
<rect x="493.0" y="1026.0" width="35.0" height="9.5" fill="#fff" opacity="0.18" filter="url(#b3)"/>
<rect x="493.0" y="1107.2" width="35.0" height="9.5" fill="#fff" opacity="0.11" filter="url(#b3)"/>
<rect x="493.0" y="1110.0" width="35.0" height="9.5" fill="#fff" opacity="0.19" filter="url(#b3)"/>
<rect x="493.0" y="1146.7" width="35.0" height="11.0" fill="#fff" opacity="0.20" filter="url(#b3)"/>
<rect x="493.0" y="983.6" width="35.0" height="1.8" fill="#fff" opacity="0.50" filter="url(#b1)"/>
<rect x="493.0" y="989.6" width="35.0" height="1.8" fill="#fff" opacity="0.42" filter="url(#b1)"/>
<rect x="493.0" y="1029.6" width="35.0" height="2.3" fill="#fff" opacity="1.00" filter="url(#b1)"/>
<rect x="494.0" y="1029.6" width="33.0" height="2.3" fill="#fff" opacity="0.72" filter="url(#b1)"/>
<rect x="493.0" y="1088.8" width="35.0" height="2.3" fill="#fff" opacity="0.33" filter="url(#b1)"/>
<rect x="493.0" y="1097.1" width="35.0" height="1.8" fill="#fff" opacity="0.25" filter="url(#b1)"/>
<rect x="493.0" y="1110.8" width="35.0" height="2.3" fill="#fff" opacity="0.84" filter="url(#b1)"/>
<rect x="493.0" y="1113.6" width="35.0" height="2.3" fill="#fff" opacity="1.00" filter="url(#b1)"/>
<rect x="494.0" y="1113.6" width="33.0" height="2.3" fill="#fff" opacity="0.76" filter="url(#b1)"/>
<rect x="493.0" y="1150.3" width="35.0" height="3.8" fill="#fff" opacity="1.00" filter="url(#b1)"/>
<rect x="494.0" y="1150.3" width="33.0" height="3.8" fill="#fff" opacity="0.80" filter="url(#b1)"/>
<rect x="493.0" y="1169.1" width="35.0" height="1.8" fill="#fff" opacity="0.33" filter="url(#b1)"/>
<rect x="493.0" y="1206.1" width="35.0" height="4.8" fill="#fff" opacity="0.56" filter="url(#b1)"/>
<rect x="493.0" y="1256.5" width="35.0" height="3.8" fill="#fff" opacity="0.21" filter="url(#b1)"/>
<rect x="493.0" y="1274.0" width="35.0" height="2.8" fill="#fff" opacity="0.26" filter="url(#b1)"/>
<rect x="493.0" y="1282.8" width="35.0" height="2.3" fill="#fff" opacity="0.20" filter="url(#b1)"/>
<path d="M476 1327.5l64 -1.5v12h-64z" fill="#020202"/>
</g>
<clipPath id="c18"><rect x="542.1" y="972.7" width="63.4" height="364.7"/></clipPath>
<g clip-path="url(#c18)">
<rect x="542.1" y="972.7" width="63.4" height="364.7" fill="#030303"/>
<linearGradient id="g18" gradientUnits="userSpaceOnUse" x1="0" y1="972.7" x2="0" y2="1337.4"><stop offset="0.001" stop-color="#2a2a2a"/><stop offset="0.157" stop-color="#282828"/><stop offset="0.376" stop-color="#242424"/><stop offset="0.514" stop-color="#262626"/><stop offset="0.610" stop-color="#202020"/><stop offset="0.719" stop-color="#101010"/><stop offset="0.969" stop-color="#0c0c0c"/></linearGradient>
<rect x="553.8" y="967.7" width="35.5" height="374.7" fill="url(#g18)" filter="url(#bl)"/>
<rect x="552.8" y="1028.9" width="37.5" height="10.0" fill="#fff" opacity="0.19" filter="url(#b3)"/>
<rect x="552.8" y="1108.2" width="37.5" height="9.5" fill="#fff" opacity="0.10" filter="url(#b3)"/>
<rect x="552.8" y="1111.2" width="37.5" height="10.5" fill="#fff" opacity="0.19" filter="url(#b3)"/>
<rect x="552.8" y="1147.8" width="37.5" height="11.5" fill="#fff" opacity="0.20" filter="url(#b3)"/>
<rect x="552.8" y="988.6" width="37.5" height="1.8" fill="#fff" opacity="0.50" filter="url(#b1)"/>
<rect x="552.8" y="994.6" width="37.5" height="1.8" fill="#fff" opacity="0.42" filter="url(#b1)"/>
<rect x="552.8" y="1032.5" width="37.5" height="2.8" fill="#fff" opacity="1.00" filter="url(#b1)"/>
<rect x="553.8" y="1032.5" width="35.5" height="2.8" fill="#fff" opacity="0.76" filter="url(#b1)"/>
<rect x="552.8" y="1089.8" width="37.5" height="2.3" fill="#fff" opacity="0.38" filter="url(#b1)"/>
<rect x="552.8" y="1099.1" width="37.5" height="1.8" fill="#fff" opacity="0.25" filter="url(#b1)"/>
<rect x="552.8" y="1111.8" width="37.5" height="2.3" fill="#fff" opacity="0.76" filter="url(#b1)"/>
<rect x="552.8" y="1114.8" width="37.5" height="3.3" fill="#fff" opacity="1.00" filter="url(#b1)"/>
<rect x="553.8" y="1114.8" width="35.5" height="3.3" fill="#fff" opacity="0.76" filter="url(#b1)"/>
<rect x="552.8" y="1151.3" width="37.5" height="4.3" fill="#fff" opacity="1.00" filter="url(#b1)"/>
<rect x="553.8" y="1151.3" width="35.5" height="4.3" fill="#fff" opacity="0.80" filter="url(#b1)"/>
<rect x="552.8" y="1170.1" width="37.5" height="1.8" fill="#fff" opacity="0.33" filter="url(#b1)"/>
<rect x="552.8" y="1206.9" width="37.5" height="4.8" fill="#fff" opacity="0.56" filter="url(#b1)"/>
<rect x="552.8" y="1258.9" width="37.5" height="3.8" fill="#fff" opacity="0.29" filter="url(#b1)"/>
<rect x="552.8" y="1275.2" width="37.5" height="2.8" fill="#fff" opacity="0.29" filter="url(#b1)"/>
<rect x="552.8" y="1283.3" width="37.5" height="2.3" fill="#fff" opacity="0.20" filter="url(#b1)"/>
<path d="M538 1329l70 1v9h-70z" fill="#020202"/>
</g>
<clipPath id="c19"><rect x="612.3" y="972.7" width="55.6" height="364.7"/></clipPath>
<g clip-path="url(#c19)">
<rect x="612.3" y="972.7" width="55.6" height="364.7" fill="#0e0e0e"/>
<linearGradient id="g19" gradientUnits="userSpaceOnUse" x1="0" y1="972.7" x2="0" y2="1337.4"><stop offset="0.001" stop-color="#3a3a3a"/><stop offset="0.349" stop-color="#383838"/><stop offset="0.418" stop-color="#303030"/><stop offset="0.623" stop-color="#2a2a2a"/><stop offset="0.870" stop-color="#222222"/><stop offset="0.969" stop-color="#282828"/></linearGradient>
<rect x="622.6" y="967.7" width="33.2" height="374.7" fill="url(#g19)" filter="url(#bl)"/>
<rect x="615.6" y="1310.0" width="47.2" height="22.0" fill="#fff" opacity="0.07" filter="url(#b3)"/>
<rect x="621.6" y="1029.2" width="35.2" height="9.5" fill="#fff" opacity="0.19" filter="url(#b3)"/>
<rect x="620.6" y="1104.8" width="37.2" height="11.5" fill="#fff" opacity="0.20" filter="url(#b3)"/>
<rect x="620.6" y="1112.6" width="37.2" height="10.0" fill="#fff" opacity="0.17" filter="url(#b3)"/>
<rect x="621.6" y="982.2" width="35.2" height="1.6" fill="#fff" opacity="0.31" filter="url(#b1)"/>
<rect x="621.6" y="994.5" width="35.2" height="1.8" fill="#fff" opacity="0.75" filter="url(#b1)"/>
<rect x="621.6" y="1006.7" width="35.2" height="1.8" fill="#fff" opacity="0.50" filter="url(#b1)"/>
<rect x="621.6" y="1018.2" width="35.2" height="1.6" fill="#fff" opacity="0.31" filter="url(#b1)"/>
<rect x="621.6" y="1026.2" width="35.2" height="1.8" fill="#fff" opacity="0.67" filter="url(#b1)"/>
<rect x="621.6" y="1032.8" width="35.2" height="2.3" fill="#fff" opacity="1.00" filter="url(#b1)"/>
<rect x="622.6" y="1032.8" width="33.2" height="2.3" fill="#fff" opacity="0.76" filter="url(#b1)"/>
<rect x="621.6" y="1041.2" width="35.2" height="1.6" fill="#fff" opacity="0.39" filter="url(#b1)"/>
<rect x="621.6" y="1047.2" width="35.2" height="1.6" fill="#fff" opacity="0.39" filter="url(#b1)"/>
<rect x="621.6" y="1053.2" width="35.2" height="1.6" fill="#fff" opacity="0.39" filter="url(#b1)"/>
<rect x="621.6" y="1057.9" width="35.2" height="1.8" fill="#fff" opacity="0.67" filter="url(#b1)"/>
<rect x="621.6" y="1065.2" width="35.2" height="1.6" fill="#fff" opacity="0.31" filter="url(#b1)"/>
<rect x="621.6" y="1071.2" width="35.2" height="1.6" fill="#fff" opacity="0.31" filter="url(#b1)"/>
<rect x="621.6" y="1081.1" width="35.2" height="1.8" fill="#fff" opacity="0.58" filter="url(#b1)"/>
<rect x="621.6" y="1085.9" width="35.2" height="1.8" fill="#fff" opacity="0.50" filter="url(#b1)"/>
<rect x="621.6" y="1092.2" width="35.2" height="1.6" fill="#fff" opacity="0.39" filter="url(#b1)"/>
<rect x="620.6" y="1108.4" width="37.2" height="4.3" fill="#fff" opacity="1.00" filter="url(#b1)"/>
<rect x="621.6" y="1108.4" width="35.2" height="4.3" fill="#fff" opacity="0.80" filter="url(#b1)"/>
<rect x="620.6" y="1116.2" width="37.2" height="2.8" fill="#fff" opacity="1.00" filter="url(#b1)"/>
<rect x="621.6" y="1116.2" width="35.2" height="2.8" fill="#fff" opacity="0.68" filter="url(#b1)"/>
<rect x="621.6" y="1127.2" width="35.2" height="1.6" fill="#fff" opacity="0.31" filter="url(#b1)"/>
<rect x="621.6" y="1136.2" width="35.2" height="1.6" fill="#fff" opacity="0.31" filter="url(#b1)"/>
<rect x="621.6" y="1152.5" width="35.2" height="4.8" fill="#fff" opacity="0.56" filter="url(#b1)"/>
<rect x="621.6" y="1166.1" width="35.2" height="1.8" fill="#fff" opacity="0.42" filter="url(#b1)"/>
<rect x="621.6" y="1179.2" width="35.2" height="1.6" fill="#fff" opacity="0.23" filter="url(#b1)"/>
<rect x="621.6" y="1191.2" width="35.2" height="1.6" fill="#fff" opacity="0.23" filter="url(#b1)"/>
<rect x="621.6" y="1207.8" width="35.2" height="3.8" fill="#fff" opacity="0.39" filter="url(#b1)"/>
<rect x="621.6" y="1227.1" width="35.2" height="1.8" fill="#fff" opacity="0.20" filter="url(#b1)"/>
<rect x="621.6" y="1258.9" width="35.2" height="3.8" fill="#fff" opacity="0.37" filter="url(#b1)"/>
<rect x="621.6" y="1277.4" width="35.2" height="3.3" fill="#fff" opacity="0.61" filter="url(#b1)"/>
<path d="M608 1330l34 -1l14 -4l16 3v11h-64z" fill="#020202"/>
</g>
<clipPath id="c20"><rect x="676.3" y="972.7" width="63.3" height="364.7"/></clipPath>
<g clip-path="url(#c20)">
<rect x="676.3" y="972.7" width="63.3" height="364.7" fill="#0c0c0c"/>
<linearGradient id="g20" gradientUnits="userSpaceOnUse" x1="0" y1="972.7" x2="0" y2="1337.4"><stop offset="0.001" stop-color="#363636"/><stop offset="0.349" stop-color="#343434"/><stop offset="0.418" stop-color="#2e2e2e"/><stop offset="0.623" stop-color="#282828"/><stop offset="0.870" stop-color="#202020"/><stop offset="0.969" stop-color="#242424"/></linearGradient>
<rect x="688.5" y="967.7" width="37.0" height="374.7" fill="url(#g20)" filter="url(#bl)"/>
<rect x="681.5" y="1310.0" width="51.0" height="22.0" fill="#fff" opacity="0.05" filter="url(#b3)"/>
<rect x="687.5" y="1030.3" width="39.0" height="9.5" fill="#fff" opacity="0.19" filter="url(#b3)"/>
<rect x="686.5" y="1105.3" width="41.0" height="11.5" fill="#fff" opacity="0.20" filter="url(#b3)"/>
<rect x="686.5" y="1113.3" width="41.0" height="10.0" fill="#fff" opacity="0.17" filter="url(#b3)"/>
<rect x="687.5" y="983.2" width="39.0" height="1.6" fill="#fff" opacity="0.31" filter="url(#b1)"/>
<rect x="687.5" y="995.8" width="39.0" height="1.8" fill="#fff" opacity="0.75" filter="url(#b1)"/>
<rect x="687.5" y="1007.9" width="39.0" height="1.8" fill="#fff" opacity="0.50" filter="url(#b1)"/>
<rect x="687.5" y="1019.2" width="39.0" height="1.6" fill="#fff" opacity="0.31" filter="url(#b1)"/>
<rect x="687.5" y="1026.9" width="39.0" height="1.8" fill="#fff" opacity="0.67" filter="url(#b1)"/>
<rect x="687.5" y="1033.9" width="39.0" height="2.3" fill="#fff" opacity="1.00" filter="url(#b1)"/>
<rect x="688.5" y="1033.9" width="37.0" height="2.3" fill="#fff" opacity="0.76" filter="url(#b1)"/>
<rect x="687.5" y="1042.2" width="39.0" height="1.6" fill="#fff" opacity="0.39" filter="url(#b1)"/>
<rect x="687.5" y="1048.2" width="39.0" height="1.6" fill="#fff" opacity="0.39" filter="url(#b1)"/>
<rect x="687.5" y="1054.2" width="39.0" height="1.6" fill="#fff" opacity="0.39" filter="url(#b1)"/>
<rect x="687.5" y="1059.1" width="39.0" height="1.8" fill="#fff" opacity="0.67" filter="url(#b1)"/>
<rect x="687.5" y="1066.2" width="39.0" height="1.6" fill="#fff" opacity="0.31" filter="url(#b1)"/>
<rect x="687.5" y="1072.2" width="39.0" height="1.6" fill="#fff" opacity="0.31" filter="url(#b1)"/>
<rect x="687.5" y="1079.1" width="39.0" height="1.8" fill="#fff" opacity="0.67" filter="url(#b1)"/>
<rect x="687.5" y="1083.6" width="39.0" height="1.8" fill="#fff" opacity="0.50" filter="url(#b1)"/>
<rect x="687.5" y="1092.2" width="39.0" height="1.6" fill="#fff" opacity="0.39" filter="url(#b1)"/>
<rect x="686.5" y="1108.9" width="41.0" height="4.3" fill="#fff" opacity="1.00" filter="url(#b1)"/>
<rect x="687.5" y="1108.9" width="39.0" height="4.3" fill="#fff" opacity="0.80" filter="url(#b1)"/>
<rect x="686.5" y="1116.9" width="41.0" height="2.8" fill="#fff" opacity="1.00" filter="url(#b1)"/>
<rect x="687.5" y="1116.9" width="39.0" height="2.8" fill="#fff" opacity="0.68" filter="url(#b1)"/>
<rect x="687.5" y="1127.2" width="39.0" height="1.6" fill="#fff" opacity="0.31" filter="url(#b1)"/>
<rect x="687.5" y="1136.2" width="39.0" height="1.6" fill="#fff" opacity="0.31" filter="url(#b1)"/>
<rect x="687.5" y="1153.6" width="39.0" height="4.8" fill="#fff" opacity="0.56" filter="url(#b1)"/>
<rect x="687.5" y="1167.1" width="39.0" height="1.8" fill="#fff" opacity="0.42" filter="url(#b1)"/>
<rect x="687.5" y="1180.2" width="39.0" height="1.6" fill="#fff" opacity="0.23" filter="url(#b1)"/>
<rect x="687.5" y="1192.2" width="39.0" height="1.6" fill="#fff" opacity="0.23" filter="url(#b1)"/>
<rect x="687.5" y="1207.8" width="39.0" height="3.8" fill="#fff" opacity="0.37" filter="url(#b1)"/>
<rect x="687.5" y="1227.1" width="39.0" height="1.8" fill="#fff" opacity="0.20" filter="url(#b1)"/>
<rect x="687.5" y="1261.1" width="39.0" height="3.8" fill="#fff" opacity="0.37" filter="url(#b1)"/>
<rect x="687.5" y="1278.8" width="39.0" height="3.3" fill="#fff" opacity="0.57" filter="url(#b1)"/>
<path d="M672 1328l70 3v8h-70z" fill="#020202"/>
</g>
</svg>
</body></html>
